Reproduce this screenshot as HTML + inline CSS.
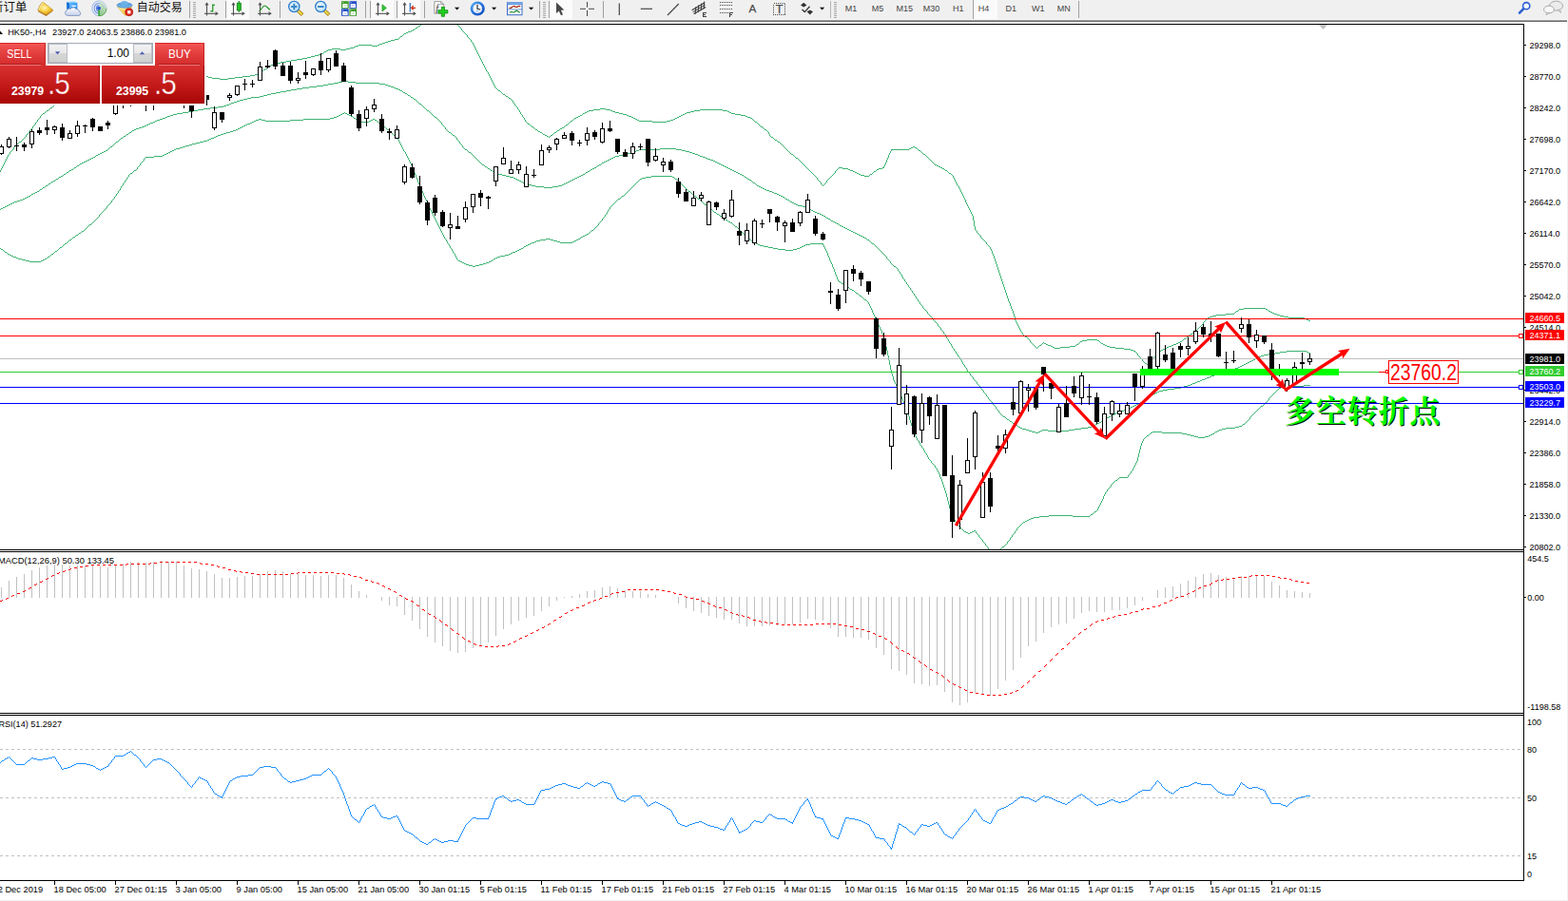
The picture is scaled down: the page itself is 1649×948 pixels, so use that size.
<!DOCTYPE html>
<html><head><meta charset="utf-8"><title>HK50 H4</title><style>
html,body{margin:0;padding:0;background:#fff;}
body{width:1649px;height:948px;position:relative;overflow:hidden;font-family:"Liberation Sans",sans-serif;}
svg{position:absolute;left:0;top:0;display:block}
#panel{position:absolute;left:0;top:45px;width:217px;height:66px;background:#fff;font-family:"Liberation Sans",sans-serif;color:#fff}
#panel div{position:absolute;box-sizing:border-box}
.btn{top:0;height:24px;border-top:1px solid #d42a2a;border-right:1px solid #c82222;background:linear-gradient(#f25454,#e03a3a 55%,#d42c2c);font-size:12.5px;text-align:center;line-height:22px;}
.btn b{font-weight:normal;display:inline-block}
.btn i{position:absolute;left:0;right:4px;bottom:0;height:1px;background:#f27878;display:block;box-shadow:0 -1px 0 #b41818}
.blk{top:24px;height:40px;background:linear-gradient(#d83030,#c41a1a 50%,#a80606);border-right:1px solid #a00808}
.sm{position:absolute;font-weight:bold;font-size:12.3px;top:21px;line-height:12px}
.bg{position:absolute;font-size:33px;top:1px;line-height:36px;letter-spacing:-1px;transform:scaleX(.9);transform-origin:0 0;-webkit-text-stroke:.45px #c41a1a}
#qty{left:50px;top:0;width:111px;height:22px;background:#fff;border:1px solid #a4a8b4;}
.sp{top:0;width:20px;height:20px;background:linear-gradient(#f2f2f2,#e8e8e8 48%,#d6d6d6 52%,#d0d0d0);border:1px solid #b8bcc4}
</style></head>
<body>
<svg width="1649" height="948" viewBox="0 0 1649 948">
<rect x="0" y="0" width="1649" height="948" fill="#fff"/>
<rect x="0" y="0" width="1649" height="21" fill="#f0f0f0"/>
<rect x="0" y="20" width="1648" height="1" fill="#f6f6f6"/>
<rect x="0" y="21" width="1648" height="1" fill="#a0a0a0"/>
<rect x="0" y="22" width="1648" height="1" fill="#696969"/>
<rect x="1648" y="0" width="1" height="948" fill="#f0f0f0"/>
<rect x="0" y="947" width="1649" height="1" fill="#f0f0f0"/>
<g shape-rendering="crispEdges">
<line x1="0" y1="788.5" x2="1602" y2="788.5" stroke="#c0c0c0" stroke-width="1" stroke-dasharray="3,3"/>
<line x1="0" y1="839.5" x2="1602" y2="839.5" stroke="#c0c0c0" stroke-width="1" stroke-dasharray="3,3"/>
<line x1="0" y1="900.5" x2="1602" y2="900.5" stroke="#c0c0c0" stroke-width="1" stroke-dasharray="3,3"/>
<clipPath id="cm"><rect x="0" y="26" width="1602" height="552"/></clipPath>
<path d="M442 26.5h1M440 27.5h2M439 28.5h1M437 29.5h2M436 30.5h1M434 31.5h2M432 32.5h2M429 33.5h3M427 34.5h2M425 35.5h2M424 36.5h1M423 37.5h1M421 38.5h2M420 39.5h1M419 40.5h1M415 41.5h4M411 42.5h4M408 43.5h3M405 44.5h3M402 45.5h3M399 46.5h3M377 47.5h14M397 47.5h2M374 48.5h3M391 48.5h6M372 49.5h2M368 50.5h4M349 51.5h9M364 51.5h4M345 52.5h4M358 52.5h6M343 53.5h2M341 54.5h2M340 55.5h1M338 56.5h2M335 57.5h3M331 58.5h4M327 59.5h4M323 60.5h4M318 61.5h5M312 62.5h6M306 63.5h6M301 64.5h5M295 65.5h6M290 66.5h5M287 67.5h3M285 68.5h2M284 69.5h1M282 70.5h2M281 71.5h1M279 72.5h2M277 73.5h2M276 74.5h1M274 75.5h2M273 76.5h1M271 77.5h2M268 78.5h3M263 79.5h5M210 80.5h9M255 80.5h8M198 81.5h12M219 81.5h4M247 81.5h8M186 82.5h12M223 82.5h8M240 82.5h7M176 83.5h10M231 83.5h9M168 84.5h8M160 85.5h8M152 86.5h8M144 87.5h8M138 88.5h6M132 89.5h6M126 90.5h6M120 91.5h6M115 92.5h5M109 93.5h6M103 94.5h6M99 95.5h4M95 96.5h4M92 97.5h3M89 98.5h3M85 99.5h4M82 100.5h3M79 101.5h3M75 102.5h4M72 103.5h3M69 104.5h3M67 105.5h2M65 106.5h2M63 107.5h2M61 108.5h2M59 109.5h2M57 110.5h2M56 111.5h1M55 112.5h1M53 113.5h2M52 114.5h1M51 115.5h1M49 116.5h2M48 117.5h1M47 118.5h1M45 119.5h2M44 120.5h1M43 121.5h1M42 122.5h1M42 123.5h1M41 124.5h1M40 125.5h1M39 126.5h1M39 127.5h1M38 128.5h1M37 129.5h1M37 130.5h1M36 131.5h1M35 132.5h1M34 133.5h1M34 134.5h1M33 135.5h1M32 136.5h1M31 137.5h1M31 138.5h1M30 139.5h1M29 140.5h1M28 141.5h1M27 142.5h1M27 143.5h1M26 144.5h1M25 145.5h1M24 146.5h1M23 147.5h1M22 148.5h1M20 149.5h2M19 150.5h1M18 151.5h1M17 152.5h1M16 153.5h1M15 154.5h1M14 155.5h1M14 156.5h1M13 157.5h1M12 158.5h1M11 159.5h1M10 160.5h1M10 161.5h1M9 162.5h1M8 163.5h1M8 164.5h1M7 165.5h1M7 166.5h1M6 167.5h1M6 168.5h1M5 169.5h1M5 170.5h1M4 171.5h1M4 172.5h1M3 173.5h1M3 174.5h1M2 175.5h1M2 176.5h1M1 177.5h1M1 178.5h1M0 179.5h1M0 180.5h1" stroke="#3cb371" stroke-width="1" fill="none" shape-rendering="crispEdges"/>
<path d="M481 26.5h1M482 27.5h1M483 28.5h1M484 29.5h1M485 30.5h1M485 31.5h1M486 32.5h1M487 33.5h1M488 34.5h1M489 35.5h1M490 36.5h1M491 37.5h1M491 38.5h1M492 39.5h1M493 40.5h1M494 41.5h1M495 42.5h1M495 43.5h1M496 44.5h1M497 45.5h1M497 46.5h1M498 47.5h1M498 48.5h1M499 49.5h1M499 50.5h1M500 51.5h1M500 52.5h1M501 53.5h1M501 54.5h1M502 55.5h1M502 56.5h1M503 57.5h1M503 58.5h1M504 59.5h1M504 60.5h1M505 61.5h1M505 62.5h1M506 63.5h1M506 64.5h1M507 65.5h1M507 66.5h1M508 67.5h1M508 68.5h1M509 69.5h1M509 70.5h1M510 71.5h1M510 72.5h1M511 73.5h1M511 74.5h1M512 75.5h1M513 76.5h1M513 77.5h1M514 78.5h1M514 79.5h1M515 80.5h1M515 81.5h1M516 82.5h1M516 83.5h1M517 84.5h1M517 85.5h1M518 86.5h1M518 87.5h1M519 88.5h1M519 89.5h1M520 90.5h1M520 91.5h1M521 92.5h1M522 93.5h1M523 94.5h1M524 95.5h2M526 96.5h1M527 97.5h1M528 98.5h1M529 99.5h2M531 100.5h1M532 101.5h2M534 102.5h1M535 103.5h2M537 104.5h1M538 105.5h1M539 106.5h1M539 107.5h1M540 108.5h1M541 109.5h1M541 110.5h1M542 111.5h1M543 112.5h1M544 113.5h1M544 114.5h1M631 114.5h6M545 115.5h1M624 115.5h7M637 115.5h5M736 115.5h24M546 116.5h1M619 116.5h5M642 116.5h2M730 116.5h6M760 116.5h5M546 117.5h1M617 117.5h2M644 117.5h3M726 117.5h4M765 117.5h2M547 118.5h1M615 118.5h2M647 118.5h4M722 118.5h4M767 118.5h2M547 119.5h1M613 119.5h2M651 119.5h4M720 119.5h2M769 119.5h4M548 120.5h1M612 120.5h1M655 120.5h4M718 120.5h2M773 120.5h6M549 121.5h1M610 121.5h2M659 121.5h2M716 121.5h2M779 121.5h5M549 122.5h1M608 122.5h2M661 122.5h3M714 122.5h2M784 122.5h2M550 123.5h1M606 123.5h2M664 123.5h2M712 123.5h2M786 123.5h3M551 124.5h1M604 124.5h2M666 124.5h2M710 124.5h2M789 124.5h2M551 125.5h1M603 125.5h1M668 125.5h2M708 125.5h2M791 125.5h1M552 126.5h1M602 126.5h1M670 126.5h2M705 126.5h3M792 126.5h1M552 127.5h1M600 127.5h2M672 127.5h14M701 127.5h4M793 127.5h1M553 128.5h1M599 128.5h1M686 128.5h15M794 128.5h2M554 129.5h1M598 129.5h1M796 129.5h1M555 130.5h2M597 130.5h1M797 130.5h1M557 131.5h1M595 131.5h2M798 131.5h1M558 132.5h1M594 132.5h1M799 132.5h1M559 133.5h2M593 133.5h1M800 133.5h2M561 134.5h1M591 134.5h2M802 134.5h1M562 135.5h1M589 135.5h2M803 135.5h1M563 136.5h2M588 136.5h1M804 136.5h2M565 137.5h1M586 137.5h2M806 137.5h1M566 138.5h2M585 138.5h1M807 138.5h1M568 139.5h2M583 139.5h2M808 139.5h1M570 140.5h1M582 140.5h1M808 140.5h1M571 141.5h2M581 141.5h1M809 141.5h1M573 142.5h2M579 142.5h2M809 142.5h1M575 143.5h2M578 143.5h1M810 143.5h1M577 144.5h1M811 144.5h2M813 145.5h1M814 146.5h1M815 147.5h2M817 148.5h1M818 149.5h2M820 150.5h1M821 151.5h1M822 152.5h1M823 153.5h1M824 154.5h1M960 154.5h2M825 155.5h1M958 155.5h2M962 155.5h2M826 156.5h1M956 156.5h2M964 156.5h1M827 157.5h1M937 157.5h19M965 157.5h1M828 158.5h1M937 158.5h1M966 158.5h2M829 159.5h1M936 159.5h1M968 159.5h1M830 160.5h1M936 160.5h1M969 160.5h1M831 161.5h1M935 161.5h1M970 161.5h1M832 162.5h2M935 162.5h1M971 162.5h2M834 163.5h1M934 163.5h1M973 163.5h1M835 164.5h1M934 164.5h1M974 164.5h1M836 165.5h1M934 165.5h1M975 165.5h1M837 166.5h2M933 166.5h1M976 166.5h1M839 167.5h1M933 167.5h1M977 167.5h1M840 168.5h1M932 168.5h1M978 168.5h1M841 169.5h1M932 169.5h1M979 169.5h1M842 170.5h1M932 170.5h1M980 170.5h1M843 171.5h1M931 171.5h1M981 171.5h1M844 172.5h1M931 172.5h1M982 172.5h1M845 173.5h1M930 173.5h1M983 173.5h2M846 174.5h1M930 174.5h1M985 174.5h2M847 175.5h1M929 175.5h1M987 175.5h2M848 176.5h1M882 176.5h4M928 176.5h2M989 176.5h2M849 177.5h1M881 177.5h1M886 177.5h6M924 177.5h4M991 177.5h2M850 178.5h1M880 178.5h1M892 178.5h2M922 178.5h2M993 178.5h1M851 179.5h1M879 179.5h1M894 179.5h3M921 179.5h1M994 179.5h2M852 180.5h1M878 180.5h1M897 180.5h2M919 180.5h2M996 180.5h1M853 181.5h1M878 181.5h1M899 181.5h2M918 181.5h1M997 181.5h1M854 182.5h1M877 182.5h1M901 182.5h2M917 182.5h1M998 182.5h2M855 183.5h1M876 183.5h1M903 183.5h2M915 183.5h2M1000 183.5h1M856 184.5h1M875 184.5h1M905 184.5h4M914 184.5h1M1001 184.5h1M857 185.5h1M874 185.5h1M909 185.5h5M1002 185.5h1M858 186.5h1M873 186.5h1M1002 186.5h1M859 187.5h1M872 187.5h1M1003 187.5h1M859 188.5h1M871 188.5h1M1003 188.5h1M860 189.5h1M870 189.5h1M1004 189.5h1M861 190.5h1M869 190.5h1M1004 190.5h1M862 191.5h1M869 191.5h1M1005 191.5h1M863 192.5h1M868 192.5h1M1005 192.5h1M863 193.5h1M867 193.5h1M1006 193.5h1M864 194.5h1M866 194.5h1M1006 194.5h1M865 195.5h1M1007 195.5h1M1008 196.5h1M1008 197.5h1M1009 198.5h1M1009 199.5h1M1010 200.5h1M1010 201.5h1M1011 202.5h1M1011 203.5h1M1012 204.5h1M1012 205.5h1M1013 206.5h1M1013 207.5h1M1014 208.5h1M1014 209.5h1M1015 210.5h1M1015 211.5h1M1015 212.5h1M1016 213.5h1M1016 214.5h1M1017 215.5h1M1017 216.5h1M1018 217.5h1M1018 218.5h1M1019 219.5h1M1019 220.5h1M1020 221.5h1M1020 222.5h1M1021 223.5h1M1021 224.5h1M1022 225.5h1M1022 226.5h1M1023 227.5h1M1023 228.5h1M1023 229.5h1M1023 230.5h1M1023 231.5h1M1024 232.5h1M1024 233.5h1M1024 234.5h1M1024 235.5h1M1024 236.5h1M1024 237.5h1M1025 238.5h1M1025 239.5h1M1025 240.5h1M1025 241.5h1M1026 242.5h1M1027 243.5h1M1027 244.5h1M1028 245.5h1M1029 246.5h1M1030 247.5h1M1031 248.5h1M1031 249.5h1M1032 250.5h1M1033 251.5h1M1034 252.5h1M1035 253.5h1M1036 254.5h1M1037 255.5h1M1037 256.5h1M1038 257.5h1M1039 258.5h1M1040 259.5h1M1041 260.5h1M1041 261.5h1M1042 262.5h1M1042 263.5h1M1043 264.5h1M1043 265.5h1M1043 266.5h1M1044 267.5h1M1044 268.5h1M1045 269.5h1M1045 270.5h1M1045 271.5h1M1046 272.5h1M1046 273.5h1M1046 274.5h1M1047 275.5h1M1047 276.5h1M1047 277.5h1M1048 278.5h1M1048 279.5h1M1048 280.5h1M1049 281.5h1M1049 282.5h1M1049 283.5h1M1050 284.5h1M1050 285.5h1M1050 286.5h1M1051 287.5h1M1051 288.5h1M1051 289.5h1M1052 290.5h1M1052 291.5h1M1052 292.5h1M1053 293.5h1M1053 294.5h1M1053 295.5h1M1054 296.5h1M1054 297.5h1M1054 298.5h1M1055 299.5h1M1055 300.5h1M1055 301.5h1M1056 302.5h1M1056 303.5h1M1056 304.5h1M1057 305.5h1M1057 306.5h1M1057 307.5h1M1058 308.5h1M1058 309.5h1M1058 310.5h1M1059 311.5h1M1059 312.5h1M1059 313.5h1M1060 314.5h1M1060 315.5h1M1060 316.5h1M1061 317.5h1M1061 318.5h1M1062 319.5h1M1062 320.5h1M1062 321.5h1M1063 322.5h1M1063 323.5h1M1063 324.5h1M1308 324.5h23M1064 325.5h1M1303 325.5h5M1331 325.5h2M1064 326.5h1M1302 326.5h1M1333 326.5h1M1065 327.5h1M1300 327.5h2M1334 327.5h2M1065 328.5h1M1299 328.5h1M1336 328.5h2M1065 329.5h1M1298 329.5h1M1338 329.5h2M1066 330.5h1M1289 330.5h9M1340 330.5h3M1066 331.5h1M1279 331.5h10M1343 331.5h3M1066 332.5h1M1275 332.5h4M1346 332.5h4M1067 333.5h1M1272 333.5h3M1350 333.5h5M1067 334.5h1M1270 334.5h2M1355 334.5h17M1067 335.5h1M1269 335.5h1M1372 335.5h2M1067 336.5h1M1268 336.5h1M1374 336.5h2M1068 337.5h1M1267 337.5h1M1376 337.5h2M1068 338.5h1M1266 338.5h1M1069 339.5h1M1265 339.5h1M1069 340.5h1M1265 340.5h1M1070 341.5h1M1264 341.5h1M1070 342.5h1M1263 342.5h1M1071 343.5h1M1262 343.5h1M1071 344.5h1M1261 344.5h1M1072 345.5h1M1260 345.5h1M1072 346.5h1M1259 346.5h1M1073 347.5h1M1257 347.5h2M1073 348.5h1M1256 348.5h1M1074 349.5h1M1255 349.5h1M1075 350.5h1M1254 350.5h1M1075 351.5h1M1252 351.5h2M1076 352.5h1M1251 352.5h1M1077 353.5h1M1250 353.5h1M1078 354.5h2M1248 354.5h2M1080 355.5h1M1247 355.5h1M1081 356.5h1M1245 356.5h2M1082 357.5h1M1143 357.5h11M1244 357.5h1M1083 358.5h1M1138 358.5h5M1154 358.5h2M1243 358.5h1M1083 359.5h1M1136 359.5h2M1156 359.5h1M1241 359.5h2M1084 360.5h1M1097 360.5h1M1135 360.5h1M1157 360.5h1M1239 360.5h2M1085 361.5h1M1096 361.5h1M1098 361.5h2M1134 361.5h1M1158 361.5h2M1237 361.5h2M1086 362.5h1M1095 362.5h1M1100 362.5h2M1132 362.5h2M1160 362.5h2M1234 362.5h3M1087 363.5h1M1093 363.5h2M1102 363.5h3M1131 363.5h1M1162 363.5h2M1232 363.5h2M1088 364.5h1M1092 364.5h1M1105 364.5h2M1125 364.5h6M1164 364.5h3M1229 364.5h3M1089 365.5h1M1091 365.5h1M1107 365.5h2M1115 365.5h10M1167 365.5h6M1227 365.5h2M1090 366.5h1M1109 366.5h6M1173 366.5h9M1225 366.5h2M1182 367.5h7M1223 367.5h2M1189 368.5h3M1221 368.5h2M1192 369.5h2M1220 369.5h1M1194 370.5h1M1219 370.5h1M1195 371.5h1M1218 371.5h1M1196 372.5h1M1217 372.5h1M1196 373.5h1M1216 373.5h1M1197 374.5h1M1215 374.5h1M1198 375.5h1M1214 375.5h1M1199 376.5h1M1213 376.5h1M1200 377.5h1M1212 377.5h1M1201 378.5h1M1211 378.5h1M1201 379.5h1M1210 379.5h1M1202 380.5h1M1210 380.5h1M1203 381.5h1M1209 381.5h1M1204 382.5h2M1208 382.5h1M1206 383.5h2" stroke="#3cb371" stroke-width="1" fill="none" shape-rendering="crispEdges"/>
<path d="M360 85.5h6M356 86.5h4M366 86.5h8M351 87.5h5M374 87.5h25M345 88.5h6M399 88.5h6M340 89.5h5M405 89.5h3M333 90.5h7M408 90.5h3M325 91.5h8M411 91.5h3M318 92.5h7M414 92.5h2M312 93.5h6M416 93.5h3M306 94.5h6M419 94.5h2M301 95.5h5M421 95.5h2M295 96.5h6M423 96.5h1M290 97.5h5M424 97.5h2M285 98.5h5M426 98.5h2M281 99.5h4M428 99.5h1M277 100.5h4M429 100.5h2M273 101.5h4M431 101.5h1M264 102.5h9M432 102.5h2M260 103.5h4M434 103.5h1M256 104.5h4M435 104.5h2M252 105.5h4M437 105.5h1M249 106.5h3M438 106.5h1M246 107.5h3M439 107.5h1M243 108.5h3M440 108.5h1M241 109.5h2M441 109.5h2M238 110.5h3M443 110.5h1M235 111.5h3M444 111.5h1M229 112.5h6M445 112.5h1M221 113.5h8M446 113.5h1M214 114.5h7M447 114.5h1M208 115.5h6M448 115.5h1M203 116.5h5M449 116.5h2M198 117.5h5M451 117.5h1M192 118.5h6M452 118.5h1M186 119.5h6M453 119.5h1M182 120.5h4M454 120.5h1M179 121.5h3M455 121.5h1M176 122.5h3M456 122.5h1M174 123.5h2M457 123.5h2M171 124.5h3M459 124.5h1M168 125.5h3M460 125.5h1M165 126.5h3M461 126.5h1M163 127.5h2M462 127.5h1M161 128.5h2M463 128.5h1M158 129.5h3M464 129.5h1M156 130.5h2M464 130.5h1M154 131.5h2M465 131.5h1M152 132.5h2M466 132.5h1M149 133.5h3M467 133.5h1M146 134.5h3M468 134.5h1M143 135.5h3M468 135.5h1M141 136.5h2M469 136.5h1M139 137.5h2M470 137.5h1M138 138.5h1M471 138.5h1M136 139.5h2M472 139.5h2M135 140.5h1M474 140.5h1M133 141.5h2M475 141.5h1M132 142.5h1M476 142.5h2M130 143.5h2M478 143.5h1M129 144.5h1M479 144.5h1M127 145.5h2M480 145.5h1M126 146.5h1M480 146.5h1M125 147.5h1M481 147.5h1M124 148.5h1M482 148.5h1M122 149.5h2M483 149.5h1M121 150.5h1M483 150.5h1M120 151.5h1M484 151.5h1M119 152.5h1M485 152.5h1M118 153.5h1M486 153.5h1M116 154.5h2M486 154.5h1M115 155.5h1M487 155.5h1M114 156.5h1M488 156.5h1M694 156.5h17M113 157.5h1M489 157.5h2M672 157.5h22M711 157.5h6M111 158.5h2M491 158.5h1M669 158.5h3M717 158.5h4M109 159.5h2M492 159.5h1M667 159.5h2M721 159.5h4M107 160.5h2M493 160.5h2M663 160.5h4M725 160.5h3M105 161.5h2M495 161.5h1M659 161.5h4M728 161.5h3M103 162.5h2M496 162.5h1M655 162.5h4M731 162.5h3M101 163.5h2M497 163.5h1M651 163.5h4M734 163.5h2M100 164.5h1M498 164.5h1M647 164.5h4M736 164.5h3M98 165.5h2M499 165.5h1M645 165.5h2M739 165.5h3M96 166.5h2M500 166.5h1M643 166.5h2M742 166.5h2M94 167.5h2M501 167.5h1M641 167.5h2M744 167.5h3M92 168.5h2M502 168.5h1M639 168.5h2M747 168.5h3M90 169.5h2M503 169.5h1M637 169.5h2M750 169.5h2M88 170.5h2M504 170.5h1M635 170.5h2M752 170.5h2M86 171.5h2M505 171.5h1M633 171.5h2M754 171.5h2M84 172.5h2M506 172.5h1M632 172.5h1M756 172.5h2M83 173.5h1M507 173.5h2M630 173.5h2M758 173.5h2M81 174.5h2M509 174.5h1M628 174.5h2M760 174.5h2M80 175.5h1M510 175.5h2M627 175.5h1M762 175.5h2M78 176.5h2M512 176.5h1M625 176.5h2M764 176.5h2M77 177.5h1M513 177.5h2M623 177.5h2M766 177.5h2M75 178.5h2M515 178.5h1M621 178.5h2M768 178.5h2M73 179.5h2M516 179.5h2M620 179.5h1M770 179.5h2M72 180.5h1M518 180.5h1M618 180.5h2M772 180.5h2M70 181.5h2M519 181.5h2M616 181.5h2M774 181.5h2M69 182.5h1M521 182.5h3M615 182.5h1M776 182.5h2M67 183.5h2M524 183.5h4M613 183.5h2M778 183.5h2M66 184.5h1M528 184.5h4M611 184.5h2M780 184.5h2M64 185.5h2M532 185.5h4M609 185.5h2M782 185.5h1M62 186.5h2M536 186.5h4M607 186.5h2M783 186.5h2M61 187.5h1M540 187.5h2M605 187.5h2M785 187.5h1M59 188.5h2M542 188.5h2M603 188.5h2M786 188.5h2M58 189.5h1M544 189.5h2M601 189.5h2M788 189.5h2M56 190.5h2M546 190.5h2M599 190.5h2M790 190.5h1M54 191.5h2M548 191.5h2M597 191.5h2M791 191.5h1M53 192.5h1M550 192.5h3M595 192.5h2M792 192.5h2M51 193.5h2M553 193.5h3M593 193.5h2M794 193.5h1M50 194.5h1M556 194.5h3M591 194.5h2M795 194.5h1M48 195.5h2M559 195.5h4M587 195.5h4M796 195.5h2M47 196.5h1M563 196.5h9M581 196.5h6M798 196.5h2M45 197.5h2M572 197.5h9M800 197.5h2M44 198.5h1M802 198.5h2M42 199.5h2M804 199.5h2M41 200.5h1M806 200.5h3M39 201.5h2M809 201.5h3M37 202.5h2M812 202.5h2M35 203.5h2M814 203.5h3M33 204.5h2M817 204.5h2M32 205.5h1M819 205.5h2M30 206.5h2M821 206.5h2M28 207.5h2M823 207.5h2M26 208.5h2M825 208.5h1M24 209.5h2M826 209.5h2M21 210.5h3M828 210.5h2M18 211.5h3M830 211.5h1M15 212.5h3M831 212.5h2M13 213.5h2M833 213.5h2M11 214.5h2M835 214.5h2M9 215.5h2M837 215.5h2M7 216.5h2M839 216.5h5M5 217.5h2M844 217.5h4M3 218.5h2M848 218.5h2M1 219.5h2M850 219.5h1M0 220.5h1M851 220.5h2M853 221.5h2M855 222.5h2M857 223.5h2M859 224.5h3M862 225.5h2M864 226.5h2M866 227.5h2M868 228.5h1M869 229.5h2M871 230.5h2M873 231.5h1M874 232.5h2M876 233.5h2M878 234.5h2M880 235.5h2M882 236.5h1M883 237.5h2M885 238.5h2M887 239.5h2M889 240.5h2M891 241.5h2M893 242.5h2M895 243.5h2M897 244.5h2M899 245.5h2M901 246.5h2M903 247.5h2M905 248.5h2M907 249.5h2M909 250.5h2M911 251.5h1M912 252.5h2M914 253.5h1M915 254.5h1M916 255.5h1M917 256.5h2M919 257.5h1M920 258.5h1M921 259.5h1M922 260.5h1M923 261.5h1M924 262.5h1M925 263.5h1M926 264.5h1M927 265.5h1M928 266.5h1M929 267.5h1M930 268.5h1M931 269.5h1M932 270.5h1M932 271.5h1M933 272.5h1M934 273.5h1M935 274.5h1M936 275.5h1M936 276.5h1M937 277.5h1M938 278.5h1M939 279.5h1M940 280.5h2M942 281.5h1M943 282.5h1M944 283.5h1M944 284.5h1M945 285.5h1M946 286.5h1M946 287.5h1M947 288.5h1M948 289.5h1M948 290.5h1M949 291.5h1M949 292.5h1M950 293.5h1M951 294.5h1M951 295.5h1M952 296.5h1M953 297.5h1M953 298.5h1M954 299.5h1M955 300.5h1M955 301.5h1M956 302.5h1M957 303.5h1M957 304.5h1M958 305.5h1M959 306.5h1M959 307.5h1M960 308.5h1M961 309.5h1M961 310.5h1M962 311.5h1M963 312.5h1M963 313.5h1M964 314.5h1M965 315.5h1M965 316.5h1M966 317.5h1M967 318.5h1M967 319.5h1M968 320.5h1M969 321.5h1M970 322.5h1M970 323.5h1M971 324.5h1M972 325.5h1M973 326.5h1M974 327.5h1M975 328.5h1M975 329.5h1M976 330.5h1M977 331.5h1M978 332.5h1M979 333.5h1M980 334.5h1M981 335.5h1M981 336.5h1M982 337.5h1M983 338.5h1M984 339.5h1M985 340.5h1M986 341.5h1M986 342.5h1M987 343.5h1M988 344.5h1M989 345.5h1M989 346.5h1M990 347.5h1M991 348.5h1M992 349.5h1M992 350.5h1M993 351.5h1M994 352.5h1M994 353.5h1M995 354.5h1M995 355.5h1M996 356.5h1M997 357.5h1M997 358.5h1M998 359.5h1M998 360.5h1M999 361.5h1M1000 362.5h1M1000 363.5h1M1001 364.5h1M1001 365.5h1M1002 366.5h1M1003 367.5h1M1003 368.5h1M1004 369.5h1M1353 369.5h21M1005 370.5h1M1346 370.5h7M1374 370.5h2M1005 371.5h1M1341 371.5h5M1376 371.5h2M1006 372.5h1M1334 372.5h7M1007 373.5h1M1329 373.5h5M1007 374.5h1M1326 374.5h3M1008 375.5h1M1324 375.5h2M1009 376.5h1M1322 376.5h2M1009 377.5h1M1320 377.5h2M1010 378.5h1M1318 378.5h2M1011 379.5h1M1316 379.5h2M1011 380.5h1M1314 380.5h2M1012 381.5h1M1312 381.5h2M1012 382.5h1M1310 382.5h2M1013 383.5h1M1308 383.5h2M1014 384.5h1M1306 384.5h2M1014 385.5h1M1304 385.5h2M1015 386.5h1M1302 386.5h2M1016 387.5h1M1299 387.5h3M1016 388.5h1M1295 388.5h4M1017 389.5h1M1292 389.5h3M1017 390.5h1M1289 390.5h3M1018 391.5h1M1285 391.5h4M1019 392.5h1M1282 392.5h3M1020 393.5h1M1279 393.5h3M1020 394.5h1M1277 394.5h2M1021 395.5h1M1274 395.5h3M1022 396.5h1M1272 396.5h2M1023 397.5h1M1269 397.5h3M1023 398.5h1M1267 398.5h2M1024 399.5h1M1264 399.5h3M1025 400.5h1M1262 400.5h2M1026 401.5h1M1259 401.5h3M1027 402.5h1M1257 402.5h2M1027 403.5h1M1254 403.5h3M1028 404.5h1M1252 404.5h2M1029 405.5h1M1249 405.5h3M1030 406.5h1M1245 406.5h4M1031 407.5h1M1242 407.5h3M1031 408.5h1M1235 408.5h7M1032 409.5h1M1228 409.5h7M1033 410.5h1M1223 410.5h5M1034 411.5h1M1219 411.5h4M1034 412.5h1M1217 412.5h2M1035 413.5h1M1215 413.5h2M1036 414.5h1M1213 414.5h2M1037 415.5h1M1211 415.5h2M1037 416.5h1M1210 416.5h1M1038 417.5h1M1208 417.5h2M1039 418.5h1M1207 418.5h1M1039 419.5h1M1205 419.5h2M1040 420.5h1M1204 420.5h1M1041 421.5h1M1203 421.5h1M1042 422.5h1M1201 422.5h2M1043 423.5h1M1199 423.5h2M1043 424.5h1M1197 424.5h2M1044 425.5h1M1195 425.5h2M1045 426.5h1M1193 426.5h2M1046 427.5h1M1191 427.5h2M1047 428.5h1M1189 428.5h2M1047 429.5h1M1187 429.5h2M1048 430.5h1M1184 430.5h3M1049 431.5h1M1182 431.5h2M1050 432.5h1M1179 432.5h3M1050 433.5h1M1176 433.5h3M1051 434.5h1M1174 434.5h2M1052 435.5h1M1172 435.5h2M1053 436.5h1M1170 436.5h2M1054 437.5h1M1168 437.5h2M1055 438.5h2M1166 438.5h2M1057 439.5h1M1164 439.5h2M1058 440.5h1M1163 440.5h1M1059 441.5h2M1161 441.5h2M1061 442.5h1M1159 442.5h2M1062 443.5h2M1158 443.5h1M1064 444.5h1M1156 444.5h2M1065 445.5h2M1154 445.5h2M1067 446.5h1M1152 446.5h2M1068 447.5h2M1150 447.5h2M1070 448.5h1M1148 448.5h2M1071 449.5h2M1144 449.5h4M1073 450.5h2M1137 450.5h7M1075 451.5h4M1130 451.5h7M1079 452.5h3M1096 452.5h6M1124 452.5h6M1082 453.5h3M1094 453.5h2M1102 453.5h22M1085 454.5h4M1092 454.5h2M1089 455.5h3" stroke="#3cb371" stroke-width="1" fill="none" shape-rendering="crispEdges"/>
<path d="M362 118.5h1M360 119.5h2M363 119.5h2M358 120.5h2M365 120.5h2M356 121.5h2M367 121.5h2M354 122.5h2M369 122.5h2M351 123.5h3M371 123.5h1M347 124.5h4M372 124.5h2M272 125.5h3M319 125.5h28M374 125.5h1M392 125.5h2M269 126.5h3M275 126.5h4M305 126.5h14M375 126.5h1M390 126.5h2M394 126.5h2M267 127.5h2M279 127.5h26M376 127.5h2M388 127.5h2M396 127.5h1M265 128.5h2M378 128.5h10M397 128.5h1M263 129.5h2M398 129.5h2M260 130.5h3M400 130.5h1M258 131.5h2M401 131.5h2M256 132.5h2M403 132.5h1M254 133.5h2M404 133.5h1M252 134.5h2M405 134.5h1M250 135.5h2M406 135.5h1M248 136.5h2M407 136.5h2M245 137.5h3M409 137.5h1M242 138.5h3M410 138.5h1M238 139.5h4M411 139.5h1M235 140.5h3M412 140.5h1M232 141.5h3M413 141.5h1M229 142.5h3M414 142.5h1M227 143.5h2M415 143.5h1M225 144.5h2M416 144.5h1M222 145.5h3M417 145.5h1M220 146.5h2M418 146.5h1M218 147.5h2M419 147.5h1M214 148.5h4M419 148.5h1M210 149.5h4M420 149.5h1M206 150.5h4M420 150.5h1M202 151.5h4M421 151.5h1M199 152.5h3M421 152.5h1M195 153.5h4M422 153.5h1M192 154.5h3M422 154.5h1M189 155.5h3M423 155.5h1M185 156.5h4M423 156.5h1M183 157.5h2M424 157.5h1M181 158.5h2M424 158.5h1M179 159.5h2M425 159.5h1M177 160.5h2M426 160.5h1M175 161.5h2M426 161.5h1M173 162.5h2M427 162.5h1M171 163.5h2M427 163.5h1M162 164.5h9M428 164.5h1M153 165.5h9M428 165.5h1M152 166.5h1M429 166.5h1M151 167.5h1M429 167.5h1M151 168.5h1M430 168.5h1M150 169.5h1M430 169.5h1M149 170.5h1M431 170.5h1M148 171.5h1M431 171.5h1M147 172.5h1M432 172.5h1M147 173.5h1M432 173.5h1M146 174.5h1M433 174.5h1M145 175.5h1M433 175.5h1M144 176.5h1M433 176.5h1M144 177.5h1M434 177.5h1M143 178.5h1M434 178.5h1M141 179.5h2M435 179.5h1M140 180.5h1M435 180.5h1M139 181.5h1M435 181.5h1M137 182.5h2M436 182.5h1M136 183.5h1M436 183.5h1M135 184.5h1M437 184.5h1M135 185.5h1M437 185.5h1M685 185.5h22M134 186.5h1M437 186.5h1M679 186.5h6M707 186.5h2M133 187.5h1M438 187.5h1M675 187.5h4M709 187.5h1M133 188.5h1M438 188.5h1M673 188.5h2M710 188.5h2M132 189.5h1M439 189.5h1M672 189.5h1M712 189.5h1M131 190.5h1M439 190.5h1M671 190.5h1M713 190.5h1M131 191.5h1M439 191.5h1M670 191.5h1M714 191.5h1M130 192.5h1M440 192.5h1M669 192.5h1M715 192.5h1M129 193.5h1M440 193.5h1M668 193.5h1M716 193.5h1M129 194.5h1M441 194.5h1M667 194.5h1M717 194.5h1M128 195.5h1M441 195.5h1M666 195.5h1M718 195.5h1M127 196.5h1M441 196.5h1M665 196.5h1M719 196.5h1M127 197.5h1M442 197.5h1M664 197.5h1M720 197.5h1M126 198.5h1M442 198.5h1M663 198.5h1M721 198.5h1M126 199.5h1M443 199.5h1M662 199.5h1M722 199.5h1M125 200.5h1M443 200.5h1M661 200.5h1M723 200.5h1M124 201.5h1M444 201.5h1M660 201.5h1M724 201.5h2M124 202.5h1M444 202.5h1M659 202.5h1M726 202.5h1M123 203.5h1M445 203.5h1M658 203.5h1M727 203.5h1M122 204.5h1M445 204.5h1M657 204.5h1M728 204.5h1M122 205.5h1M445 205.5h1M656 205.5h1M729 205.5h1M121 206.5h1M446 206.5h1M654 206.5h2M730 206.5h2M120 207.5h1M446 207.5h1M653 207.5h1M732 207.5h1M120 208.5h1M447 208.5h1M652 208.5h1M733 208.5h1M119 209.5h1M447 209.5h1M650 209.5h2M734 209.5h2M118 210.5h1M448 210.5h1M649 210.5h1M736 210.5h1M117 211.5h1M448 211.5h1M648 211.5h1M737 211.5h1M117 212.5h1M449 212.5h1M647 212.5h1M738 212.5h1M116 213.5h1M449 213.5h1M646 213.5h1M739 213.5h1M115 214.5h1M449 214.5h1M645 214.5h1M740 214.5h1M114 215.5h1M450 215.5h1M644 215.5h1M741 215.5h2M113 216.5h1M450 216.5h1M643 216.5h1M743 216.5h1M112 217.5h1M451 217.5h1M642 217.5h1M744 217.5h1M112 218.5h1M451 218.5h1M641 218.5h1M745 218.5h1M111 219.5h1M452 219.5h1M641 219.5h1M746 219.5h1M110 220.5h1M452 220.5h1M640 220.5h1M747 220.5h2M109 221.5h1M453 221.5h1M639 221.5h1M749 221.5h1M108 222.5h1M453 222.5h1M639 222.5h1M750 222.5h1M107 223.5h1M454 223.5h1M638 223.5h1M751 223.5h2M106 224.5h1M454 224.5h1M638 224.5h1M753 224.5h1M105 225.5h1M455 225.5h1M637 225.5h1M754 225.5h2M104 226.5h1M455 226.5h1M636 226.5h1M756 226.5h1M104 227.5h1M456 227.5h1M636 227.5h1M757 227.5h2M103 228.5h1M456 228.5h1M635 228.5h1M759 228.5h1M102 229.5h1M457 229.5h1M634 229.5h1M760 229.5h2M101 230.5h1M457 230.5h1M633 230.5h1M762 230.5h1M100 231.5h1M458 231.5h1M633 231.5h1M763 231.5h2M99 232.5h1M458 232.5h1M632 232.5h1M765 232.5h1M98 233.5h1M459 233.5h1M631 233.5h1M766 233.5h2M97 234.5h1M459 234.5h1M630 234.5h1M768 234.5h2M96 235.5h1M460 235.5h1M629 235.5h1M770 235.5h1M94 236.5h2M460 236.5h1M629 236.5h1M771 236.5h1M93 237.5h1M461 237.5h1M628 237.5h1M772 237.5h1M92 238.5h1M461 238.5h1M627 238.5h1M773 238.5h2M91 239.5h1M462 239.5h1M626 239.5h1M775 239.5h1M90 240.5h1M462 240.5h1M625 240.5h1M776 240.5h1M89 241.5h1M463 241.5h1M624 241.5h1M777 241.5h1M88 242.5h1M463 242.5h1M622 242.5h2M778 242.5h1M86 243.5h2M464 243.5h1M621 243.5h1M779 243.5h1M85 244.5h1M464 244.5h1M620 244.5h1M780 244.5h1M83 245.5h2M465 245.5h1M619 245.5h1M781 245.5h1M82 246.5h1M465 246.5h1M617 246.5h2M782 246.5h1M80 247.5h2M466 247.5h1M615 247.5h2M783 247.5h1M79 248.5h1M466 248.5h1M613 248.5h2M784 248.5h1M77 249.5h2M467 249.5h1M611 249.5h2M785 249.5h1M76 250.5h1M467 250.5h1M610 250.5h1M786 250.5h1M75 251.5h1M468 251.5h1M574 251.5h5M608 251.5h2M787 251.5h2M73 252.5h2M469 252.5h1M568 252.5h6M579 252.5h3M606 252.5h2M789 252.5h1M72 253.5h1M469 253.5h1M564 253.5h4M582 253.5h4M604 253.5h2M790 253.5h1M71 254.5h1M470 254.5h1M562 254.5h2M586 254.5h3M602 254.5h2M791 254.5h2M70 255.5h1M470 255.5h1M559 255.5h3M589 255.5h13M793 255.5h2M68 256.5h2M471 256.5h1M557 256.5h2M795 256.5h2M852 256.5h14M67 257.5h1M472 257.5h1M555 257.5h2M797 257.5h2M847 257.5h5M865 257.5h1M66 258.5h1M472 258.5h1M553 258.5h2M799 258.5h4M845 258.5h2M866 258.5h1M65 259.5h1M473 259.5h1M551 259.5h2M803 259.5h5M843 259.5h2M866 259.5h1M63 260.5h2M473 260.5h1M550 260.5h1M808 260.5h5M841 260.5h2M867 260.5h1M0 261.5h1M62 261.5h1M474 261.5h1M548 261.5h2M813 261.5h5M838 261.5h3M867 261.5h1M1 262.5h2M61 262.5h1M475 262.5h1M546 262.5h2M818 262.5h8M834 262.5h4M868 262.5h1M3 263.5h1M60 263.5h1M475 263.5h1M544 263.5h2M826 263.5h8M868 263.5h1M4 264.5h1M58 264.5h2M476 264.5h1M542 264.5h2M869 264.5h1M5 265.5h2M57 265.5h1M476 265.5h1M539 265.5h3M869 265.5h1M7 266.5h1M56 266.5h1M477 266.5h1M537 266.5h2M870 266.5h1M8 267.5h2M54 267.5h2M478 267.5h1M535 267.5h2M870 267.5h1M10 268.5h2M53 268.5h1M478 268.5h1M531 268.5h4M870 268.5h1M12 269.5h2M52 269.5h1M479 269.5h1M526 269.5h5M871 269.5h1M14 270.5h3M50 270.5h2M479 270.5h1M523 270.5h3M871 270.5h1M17 271.5h2M49 271.5h1M480 271.5h1M521 271.5h2M872 271.5h1M19 272.5h4M47 272.5h2M480 272.5h1M519 272.5h2M872 272.5h1M23 273.5h4M45 273.5h2M481 273.5h1M518 273.5h1M872 273.5h1M27 274.5h4M43 274.5h2M482 274.5h2M516 274.5h2M873 274.5h1M31 275.5h12M484 275.5h2M514 275.5h2M873 275.5h1M486 276.5h2M511 276.5h3M874 276.5h1M488 277.5h2M508 277.5h3M874 277.5h1M490 278.5h3M504 278.5h4M875 278.5h1M493 279.5h4M500 279.5h4M875 279.5h1M497 280.5h3M875 280.5h1M876 281.5h1M876 282.5h1M877 283.5h1M877 284.5h1M877 285.5h1M878 286.5h1M878 287.5h1M878 288.5h1M879 289.5h1M879 290.5h1M880 291.5h1M880 292.5h1M880 293.5h1M881 294.5h1M881 295.5h1M882 296.5h2M884 297.5h1M885 298.5h2M887 299.5h1M888 300.5h2M890 301.5h1M891 302.5h2M893 303.5h1M894 304.5h2M896 305.5h2M898 306.5h1M899 307.5h1M900 308.5h2M902 309.5h1M903 310.5h1M904 311.5h2M906 312.5h1M907 313.5h1M908 314.5h1M909 315.5h2M911 316.5h1M912 317.5h1M913 318.5h1M913 319.5h1M914 320.5h1M914 321.5h1M915 322.5h1M915 323.5h1M916 324.5h1M916 325.5h1M917 326.5h1M917 327.5h1M917 328.5h1M918 329.5h1M918 330.5h1M919 331.5h1M919 332.5h1M920 333.5h1M920 334.5h1M921 335.5h1M921 336.5h1M922 337.5h1M922 338.5h1M922 339.5h1M923 340.5h1M923 341.5h1M924 342.5h1M924 343.5h1M925 344.5h1M925 345.5h1M926 346.5h1M926 347.5h1M927 348.5h1M927 349.5h1M927 350.5h1M928 351.5h1M928 352.5h1M928 353.5h1M929 354.5h1M929 355.5h1M929 356.5h1M929 357.5h1M930 358.5h1M930 359.5h1M930 360.5h1M931 361.5h1M931 362.5h1M931 363.5h1M931 364.5h1M932 365.5h1M932 366.5h1M932 367.5h1M932 368.5h1M933 369.5h1M933 370.5h1M933 371.5h1M933 372.5h1M933 373.5h1M934 374.5h1M934 375.5h1M934 376.5h1M934 377.5h1M934 378.5h1M935 379.5h1M935 380.5h1M935 381.5h1M935 382.5h1M935 383.5h1M936 384.5h1M936 385.5h1M936 386.5h1M936 387.5h1M936 388.5h1M937 389.5h1M937 390.5h1M937 391.5h1M937 392.5h1M938 393.5h1M938 394.5h1M938 395.5h1M939 396.5h1M939 397.5h1M939 398.5h1M939 399.5h1M940 400.5h1M940 401.5h1M941 402.5h1M941 403.5h1M942 404.5h1M942 405.5h1M943 406.5h1M943 407.5h1M944 408.5h1M944 409.5h1M945 410.5h1M945 411.5h1M945 412.5h1M946 413.5h1M946 414.5h1M947 415.5h1M947 416.5h1M948 417.5h1M948 418.5h1M948 419.5h1M949 420.5h1M949 421.5h1M950 422.5h1M950 423.5h1M950 424.5h1M951 425.5h1M951 426.5h1M952 427.5h1M952 428.5h1M953 429.5h1M953 430.5h1M953 431.5h1M954 432.5h1M954 433.5h1M954 434.5h1M955 435.5h1M955 436.5h1M955 437.5h1M956 438.5h1M956 439.5h1M956 440.5h1M956 441.5h1M957 442.5h1M957 443.5h1M957 444.5h1M958 445.5h1M958 446.5h1M958 447.5h1M959 448.5h1M959 449.5h1M959 450.5h1M960 451.5h1M960 452.5h1M961 453.5h1M961 454.5h1M961 455.5h1M962 456.5h1M962 457.5h1M962 458.5h1M963 459.5h1M963 460.5h1M964 461.5h1M964 462.5h1M965 463.5h1M966 464.5h1M966 465.5h1M967 466.5h1M967 467.5h1M968 468.5h1M969 469.5h1M969 470.5h1M970 471.5h1M971 472.5h1M971 473.5h1M972 474.5h1M972 475.5h1M973 476.5h1M974 477.5h1M974 478.5h1M975 479.5h1M975 480.5h1M976 481.5h1M976 482.5h1M977 483.5h1M978 484.5h1M979 485.5h1M979 486.5h1M980 487.5h1M981 488.5h1M982 489.5h1M983 490.5h1M983 491.5h1M984 492.5h1M985 493.5h1M985 494.5h1M986 495.5h1M986 496.5h1M987 497.5h1M987 498.5h1M988 499.5h1M988 500.5h1M988 501.5h1M989 502.5h1M989 503.5h1M990 504.5h1M990 505.5h1M990 506.5h1M991 507.5h1M991 508.5h1M991 509.5h1M992 510.5h1M992 511.5h1M992 512.5h1M993 513.5h1M993 514.5h1M993 515.5h1M994 516.5h1M994 517.5h1M994 518.5h1M995 519.5h1M995 520.5h1M995 521.5h1M995 522.5h1M996 523.5h1M996 524.5h1M996 525.5h1M996 526.5h1M997 527.5h1M997 528.5h1M997 529.5h1M997 530.5h1M998 531.5h1M998 532.5h1M998 533.5h1M998 534.5h1M999 535.5h1M999 536.5h1M1000 537.5h1M1000 538.5h1M1000 539.5h1M1001 540.5h1M1001 541.5h1M1001 542.5h1M1002 543.5h1M1002 544.5h1M1003 545.5h1M1003 546.5h1M1004 547.5h1M1004 548.5h1M1005 549.5h1M1006 550.5h1M1007 551.5h1M1007 552.5h1M1008 553.5h1M1009 554.5h1M1010 555.5h1M1011 556.5h1M1012 557.5h1M1013 558.5h1M1024 558.5h2M1014 559.5h2M1022 559.5h2M1026 559.5h1M1016 560.5h2M1020 560.5h2M1026 560.5h1M1018 561.5h2M1027 561.5h1M1028 562.5h1M1029 563.5h1M1029 564.5h1M1030 565.5h1M1031 566.5h1M1032 567.5h1M1033 568.5h1M1033 569.5h1M1034 570.5h1M1035 571.5h1M1036 572.5h1M1036 573.5h1M1037 574.5h1M1038 575.5h1M1039 576.5h1M1039 577.5h1" stroke="#3cb371" stroke-width="1" fill="none" shape-rendering="crispEdges"/>
<path d="M1371 405.5h7M1350 406.5h21M1347 407.5h3M1345 408.5h2M1344 409.5h1M1343 410.5h1M1342 411.5h1M1341 412.5h1M1340 413.5h1M1339 414.5h1M1338 415.5h1M1337 416.5h1M1336 417.5h1M1335 418.5h1M1334 419.5h1M1334 420.5h1M1333 421.5h1M1332 422.5h1M1331 423.5h1M1330 424.5h1M1329 425.5h1M1328 426.5h1M1326 427.5h2M1325 428.5h1M1324 429.5h1M1323 430.5h1M1322 431.5h1M1321 432.5h1M1320 433.5h1M1319 434.5h1M1318 435.5h1M1317 436.5h1M1316 437.5h1M1315 438.5h1M1314 439.5h1M1314 440.5h1M1313 441.5h1M1312 442.5h1M1311 443.5h1M1310 444.5h1M1309 445.5h1M1307 446.5h2M1306 447.5h1M1303 448.5h3M1299 449.5h4M1289 450.5h10M1285 451.5h4M1282 452.5h3M1280 453.5h2M1212 454.5h10M1278 454.5h2M1210 455.5h2M1222 455.5h21M1277 455.5h1M1209 456.5h1M1243 456.5h5M1275 456.5h2M1208 457.5h1M1248 457.5h4M1273 457.5h2M1206 458.5h2M1252 458.5h4M1271 458.5h2M1205 459.5h1M1256 459.5h4M1267 459.5h4M1204 460.5h1M1260 460.5h7M1203 461.5h1M1202 462.5h1M1202 463.5h1M1201 464.5h1M1201 465.5h1M1200 466.5h1M1200 467.5h1M1200 468.5h1M1199 469.5h1M1199 470.5h1M1199 471.5h1M1199 472.5h1M1198 473.5h1M1198 474.5h1M1198 475.5h1M1198 476.5h1M1197 477.5h1M1197 478.5h1M1197 479.5h1M1197 480.5h1M1196 481.5h1M1196 482.5h1M1196 483.5h1M1196 484.5h1M1195 485.5h1M1195 486.5h1M1194 487.5h1M1194 488.5h1M1193 489.5h1M1193 490.5h1M1192 491.5h1M1192 492.5h1M1191 493.5h1M1191 494.5h1M1190 495.5h1M1189 496.5h1M1189 497.5h1M1188 498.5h1M1187 499.5h1M1186 500.5h1M1186 501.5h1M1177 502.5h9M1176 503.5h1M1175 504.5h1M1173 505.5h2M1172 506.5h1M1171 507.5h1M1170 508.5h1M1169 509.5h1M1168 510.5h1M1168 511.5h1M1167 512.5h1M1166 513.5h1M1165 514.5h1M1164 515.5h1M1164 516.5h1M1163 517.5h1M1162 518.5h1M1162 519.5h1M1161 520.5h1M1161 521.5h1M1160 522.5h1M1160 523.5h1M1160 524.5h1M1159 525.5h1M1159 526.5h1M1158 527.5h1M1158 528.5h1M1157 529.5h1M1157 530.5h1M1156 531.5h1M1156 532.5h1M1155 533.5h1M1155 534.5h1M1154 535.5h1M1154 536.5h1M1153 537.5h1M1151 538.5h2M1150 539.5h1M1149 540.5h1M1147 541.5h2M1103 542.5h25M1146 542.5h1M1093 543.5h10M1128 543.5h18M1087 544.5h6M1084 545.5h3M1082 546.5h2M1080 547.5h2M1078 548.5h2M1076 549.5h2M1075 550.5h1M1074 551.5h1M1073 552.5h1M1072 553.5h1M1071 554.5h1M1070 555.5h1M1069 556.5h1M1069 557.5h1M1068 558.5h1M1067 559.5h1M1067 560.5h1M1066 561.5h1M1065 562.5h1M1064 563.5h1M1064 564.5h1M1063 565.5h1M1062 566.5h1M1062 567.5h1M1061 568.5h1M1060 569.5h1M1059 570.5h1M1059 571.5h1M1058 572.5h1M1057 573.5h1M1056 574.5h1M1054 575.5h2M1053 576.5h1M1052 577.5h1" stroke="#3cb371" stroke-width="1" fill="none" shape-rendering="crispEdges"/>
<rect x="0" y="377" width="1602" height="1" fill="#c0c0c0"/>
<rect x="0" y="335" width="1602" height="1" fill="#ff0000"/>
<rect x="0" y="353" width="1602" height="1" fill="#ff0000"/>
<rect x="0" y="391" width="1602" height="1" fill="#32cd32"/>
<rect x="0" y="407" width="1602" height="1" fill="#0000ff"/>
<rect x="0" y="424" width="1602" height="1" fill="#0000ff"/>
<rect x="1" y="618" width="1" height="11" fill="#c0c0c0"/>
<rect x="9" y="611" width="1" height="18" fill="#c0c0c0"/>
<rect x="17" y="607" width="1" height="22" fill="#c0c0c0"/>
<rect x="25" y="604" width="1" height="25" fill="#c0c0c0"/>
<rect x="33" y="600" width="1" height="29" fill="#c0c0c0"/>
<rect x="41" y="597" width="1" height="32" fill="#c0c0c0"/>
<rect x="49" y="595" width="1" height="34" fill="#c0c0c0"/>
<rect x="57" y="594" width="1" height="35" fill="#c0c0c0"/>
<rect x="65" y="594" width="1" height="35" fill="#c0c0c0"/>
<rect x="73" y="595" width="1" height="34" fill="#c0c0c0"/>
<rect x="81" y="595" width="1" height="34" fill="#c0c0c0"/>
<rect x="89" y="595" width="1" height="34" fill="#c0c0c0"/>
<rect x="97" y="595" width="1" height="34" fill="#c0c0c0"/>
<rect x="105" y="596" width="1" height="33" fill="#c0c0c0"/>
<rect x="113" y="597" width="1" height="32" fill="#c0c0c0"/>
<rect x="121" y="595" width="1" height="34" fill="#c0c0c0"/>
<rect x="129" y="593" width="1" height="36" fill="#c0c0c0"/>
<rect x="137" y="591" width="1" height="38" fill="#c0c0c0"/>
<rect x="145" y="591" width="1" height="38" fill="#c0c0c0"/>
<rect x="153" y="592" width="1" height="37" fill="#c0c0c0"/>
<rect x="161" y="591" width="1" height="38" fill="#c0c0c0"/>
<rect x="169" y="590" width="1" height="39" fill="#c0c0c0"/>
<rect x="177" y="591" width="1" height="38" fill="#c0c0c0"/>
<rect x="185" y="591" width="1" height="38" fill="#c0c0c0"/>
<rect x="193" y="595" width="1" height="34" fill="#c0c0c0"/>
<rect x="201" y="598" width="1" height="31" fill="#c0c0c0"/>
<rect x="209" y="599" width="1" height="30" fill="#c0c0c0"/>
<rect x="217" y="601" width="1" height="28" fill="#c0c0c0"/>
<rect x="225" y="604" width="1" height="25" fill="#c0c0c0"/>
<rect x="233" y="608" width="1" height="21" fill="#c0c0c0"/>
<rect x="241" y="608" width="1" height="21" fill="#c0c0c0"/>
<rect x="249" y="607" width="1" height="22" fill="#c0c0c0"/>
<rect x="257" y="606" width="1" height="23" fill="#c0c0c0"/>
<rect x="265" y="606" width="1" height="23" fill="#c0c0c0"/>
<rect x="273" y="604" width="1" height="25" fill="#c0c0c0"/>
<rect x="281" y="601" width="1" height="28" fill="#c0c0c0"/>
<rect x="289" y="600" width="1" height="29" fill="#c0c0c0"/>
<rect x="297" y="601" width="1" height="28" fill="#c0c0c0"/>
<rect x="305" y="604" width="1" height="25" fill="#c0c0c0"/>
<rect x="313" y="604" width="1" height="25" fill="#c0c0c0"/>
<rect x="321" y="605" width="1" height="24" fill="#c0c0c0"/>
<rect x="329" y="605" width="1" height="24" fill="#c0c0c0"/>
<rect x="337" y="606" width="1" height="23" fill="#c0c0c0"/>
<rect x="345" y="605" width="1" height="24" fill="#c0c0c0"/>
<rect x="353" y="605" width="1" height="24" fill="#c0c0c0"/>
<rect x="361" y="608" width="1" height="21" fill="#c0c0c0"/>
<rect x="369" y="615" width="1" height="14" fill="#c0c0c0"/>
<rect x="377" y="622" width="1" height="7" fill="#c0c0c0"/>
<rect x="385" y="626" width="1" height="3" fill="#c0c0c0"/>
<rect x="401" y="628" width="1" height="4" fill="#c0c0c0"/>
<rect x="409" y="628" width="1" height="9" fill="#c0c0c0"/>
<rect x="417" y="628" width="1" height="10" fill="#c0c0c0"/>
<rect x="425" y="628" width="1" height="19" fill="#c0c0c0"/>
<rect x="433" y="628" width="1" height="25" fill="#c0c0c0"/>
<rect x="441" y="628" width="1" height="34" fill="#c0c0c0"/>
<rect x="449" y="628" width="1" height="42" fill="#c0c0c0"/>
<rect x="457" y="628" width="1" height="48" fill="#c0c0c0"/>
<rect x="465" y="628" width="1" height="52" fill="#c0c0c0"/>
<rect x="473" y="628" width="1" height="57" fill="#c0c0c0"/>
<rect x="481" y="628" width="1" height="59" fill="#c0c0c0"/>
<rect x="489" y="628" width="1" height="58" fill="#c0c0c0"/>
<rect x="497" y="628" width="1" height="54" fill="#c0c0c0"/>
<rect x="505" y="628" width="1" height="51" fill="#c0c0c0"/>
<rect x="513" y="628" width="1" height="48" fill="#c0c0c0"/>
<rect x="521" y="628" width="1" height="41" fill="#c0c0c0"/>
<rect x="529" y="628" width="1" height="34" fill="#c0c0c0"/>
<rect x="537" y="628" width="1" height="29" fill="#c0c0c0"/>
<rect x="545" y="628" width="1" height="25" fill="#c0c0c0"/>
<rect x="553" y="628" width="1" height="22" fill="#c0c0c0"/>
<rect x="561" y="628" width="1" height="20" fill="#c0c0c0"/>
<rect x="569" y="628" width="1" height="15" fill="#c0c0c0"/>
<rect x="577" y="628" width="1" height="10" fill="#c0c0c0"/>
<rect x="585" y="628" width="1" height="4" fill="#c0c0c0"/>
<rect x="593" y="628" width="1" height="1" fill="#c0c0c0"/>
<rect x="601" y="627" width="1" height="2" fill="#c0c0c0"/>
<rect x="609" y="625" width="1" height="4" fill="#c0c0c0"/>
<rect x="617" y="622" width="1" height="7" fill="#c0c0c0"/>
<rect x="625" y="621" width="1" height="8" fill="#c0c0c0"/>
<rect x="633" y="618" width="1" height="11" fill="#c0c0c0"/>
<rect x="641" y="617" width="1" height="12" fill="#c0c0c0"/>
<rect x="649" y="619" width="1" height="10" fill="#c0c0c0"/>
<rect x="657" y="621" width="1" height="8" fill="#c0c0c0"/>
<rect x="665" y="622" width="1" height="7" fill="#c0c0c0"/>
<rect x="673" y="622" width="1" height="7" fill="#c0c0c0"/>
<rect x="681" y="625" width="1" height="4" fill="#c0c0c0"/>
<rect x="689" y="626" width="1" height="3" fill="#c0c0c0"/>
<rect x="713" y="628" width="1" height="7" fill="#c0c0c0"/>
<rect x="721" y="628" width="1" height="12" fill="#c0c0c0"/>
<rect x="729" y="628" width="1" height="15" fill="#c0c0c0"/>
<rect x="737" y="628" width="1" height="17" fill="#c0c0c0"/>
<rect x="745" y="628" width="1" height="20" fill="#c0c0c0"/>
<rect x="753" y="628" width="1" height="22" fill="#c0c0c0"/>
<rect x="761" y="628" width="1" height="24" fill="#c0c0c0"/>
<rect x="769" y="628" width="1" height="24" fill="#c0c0c0"/>
<rect x="777" y="628" width="1" height="28" fill="#c0c0c0"/>
<rect x="785" y="628" width="1" height="31" fill="#c0c0c0"/>
<rect x="793" y="628" width="1" height="31" fill="#c0c0c0"/>
<rect x="801" y="628" width="1" height="31" fill="#c0c0c0"/>
<rect x="809" y="628" width="1" height="30" fill="#c0c0c0"/>
<rect x="817" y="628" width="1" height="30" fill="#c0c0c0"/>
<rect x="825" y="628" width="1" height="29" fill="#c0c0c0"/>
<rect x="833" y="628" width="1" height="29" fill="#c0c0c0"/>
<rect x="841" y="628" width="1" height="27" fill="#c0c0c0"/>
<rect x="849" y="628" width="1" height="23" fill="#c0c0c0"/>
<rect x="857" y="628" width="1" height="24" fill="#c0c0c0"/>
<rect x="865" y="628" width="1" height="25" fill="#c0c0c0"/>
<rect x="873" y="628" width="1" height="33" fill="#c0c0c0"/>
<rect x="881" y="628" width="1" height="42" fill="#c0c0c0"/>
<rect x="889" y="628" width="1" height="42" fill="#c0c0c0"/>
<rect x="897" y="628" width="1" height="43" fill="#c0c0c0"/>
<rect x="905" y="628" width="1" height="43" fill="#c0c0c0"/>
<rect x="913" y="628" width="1" height="45" fill="#c0c0c0"/>
<rect x="921" y="628" width="1" height="54" fill="#c0c0c0"/>
<rect x="929" y="628" width="1" height="61" fill="#c0c0c0"/>
<rect x="937" y="628" width="1" height="76" fill="#c0c0c0"/>
<rect x="945" y="628" width="1" height="78" fill="#c0c0c0"/>
<rect x="953" y="628" width="1" height="82" fill="#c0c0c0"/>
<rect x="961" y="628" width="1" height="91" fill="#c0c0c0"/>
<rect x="969" y="628" width="1" height="92" fill="#c0c0c0"/>
<rect x="977" y="628" width="1" height="94" fill="#c0c0c0"/>
<rect x="985" y="628" width="1" height="93" fill="#c0c0c0"/>
<rect x="993" y="628" width="1" height="100" fill="#c0c0c0"/>
<rect x="1001" y="628" width="1" height="111" fill="#c0c0c0"/>
<rect x="1009" y="628" width="1" height="114" fill="#c0c0c0"/>
<rect x="1017" y="628" width="1" height="111" fill="#c0c0c0"/>
<rect x="1025" y="628" width="1" height="101" fill="#c0c0c0"/>
<rect x="1033" y="628" width="1" height="103" fill="#c0c0c0"/>
<rect x="1041" y="628" width="1" height="104" fill="#c0c0c0"/>
<rect x="1049" y="628" width="1" height="97" fill="#c0c0c0"/>
<rect x="1057" y="628" width="1" height="88" fill="#c0c0c0"/>
<rect x="1065" y="628" width="1" height="77" fill="#c0c0c0"/>
<rect x="1073" y="628" width="1" height="64" fill="#c0c0c0"/>
<rect x="1081" y="628" width="1" height="52" fill="#c0c0c0"/>
<rect x="1089" y="628" width="1" height="47" fill="#c0c0c0"/>
<rect x="1097" y="628" width="1" height="38" fill="#c0c0c0"/>
<rect x="1105" y="628" width="1" height="32" fill="#c0c0c0"/>
<rect x="1113" y="628" width="1" height="29" fill="#c0c0c0"/>
<rect x="1121" y="628" width="1" height="28" fill="#c0c0c0"/>
<rect x="1129" y="628" width="1" height="23" fill="#c0c0c0"/>
<rect x="1137" y="628" width="1" height="17" fill="#c0c0c0"/>
<rect x="1145" y="628" width="1" height="15" fill="#c0c0c0"/>
<rect x="1153" y="628" width="1" height="16" fill="#c0c0c0"/>
<rect x="1161" y="628" width="1" height="16" fill="#c0c0c0"/>
<rect x="1169" y="628" width="1" height="14" fill="#c0c0c0"/>
<rect x="1177" y="628" width="1" height="14" fill="#c0c0c0"/>
<rect x="1185" y="628" width="1" height="12" fill="#c0c0c0"/>
<rect x="1193" y="628" width="1" height="9" fill="#c0c0c0"/>
<rect x="1201" y="628" width="1" height="4" fill="#c0c0c0"/>
<rect x="1217" y="621" width="1" height="8" fill="#c0c0c0"/>
<rect x="1225" y="618" width="1" height="11" fill="#c0c0c0"/>
<rect x="1233" y="617" width="1" height="12" fill="#c0c0c0"/>
<rect x="1241" y="614" width="1" height="15" fill="#c0c0c0"/>
<rect x="1249" y="611" width="1" height="18" fill="#c0c0c0"/>
<rect x="1257" y="607" width="1" height="22" fill="#c0c0c0"/>
<rect x="1265" y="604" width="1" height="25" fill="#c0c0c0"/>
<rect x="1273" y="603" width="1" height="26" fill="#c0c0c0"/>
<rect x="1281" y="605" width="1" height="24" fill="#c0c0c0"/>
<rect x="1289" y="607" width="1" height="22" fill="#c0c0c0"/>
<rect x="1297" y="609" width="1" height="20" fill="#c0c0c0"/>
<rect x="1305" y="606" width="1" height="23" fill="#c0c0c0"/>
<rect x="1313" y="606" width="1" height="23" fill="#c0c0c0"/>
<rect x="1321" y="606" width="1" height="23" fill="#c0c0c0"/>
<rect x="1329" y="606" width="1" height="23" fill="#c0c0c0"/>
<rect x="1337" y="612" width="1" height="17" fill="#c0c0c0"/>
<rect x="1345" y="616" width="1" height="13" fill="#c0c0c0"/>
<rect x="1353" y="621" width="1" height="8" fill="#c0c0c0"/>
<rect x="1361" y="622" width="1" height="7" fill="#c0c0c0"/>
<rect x="1369" y="623" width="1" height="6" fill="#c0c0c0"/>
<rect x="1377" y="624" width="1" height="5" fill="#c0c0c0"/>
<rect x="1" y="152" width="1" height="11" fill="#000"/>
<rect x="-1" y="154" width="5" height="8" fill="#000"/>
<rect x="0" y="155" width="3" height="6" fill="#fff"/>
<rect x="9" y="144" width="1" height="12" fill="#000"/>
<rect x="7" y="146" width="5" height="9" fill="#000"/>
<rect x="8" y="147" width="3" height="7" fill="#fff"/>
<rect x="17" y="144" width="1" height="15" fill="#000"/>
<rect x="15" y="153" width="5" height="1" fill="#000"/>
<rect x="25" y="150" width="1" height="9" fill="#000"/>
<rect x="23" y="152" width="5" height="3" fill="#000"/>
<rect x="33" y="136" width="1" height="20" fill="#000"/>
<rect x="31" y="138" width="5" height="14" fill="#000"/>
<rect x="32" y="139" width="3" height="12" fill="#fff"/>
<rect x="41" y="134" width="1" height="8" fill="#000"/>
<rect x="39" y="137" width="5" height="3" fill="#000"/>
<rect x="49" y="126" width="1" height="16" fill="#000"/>
<rect x="47" y="134" width="5" height="3" fill="#000"/>
<rect x="57" y="132" width="1" height="9" fill="#000"/>
<rect x="55" y="133" width="5" height="4" fill="#000"/>
<rect x="56" y="134" width="3" height="2" fill="#fff"/>
<rect x="65" y="130" width="1" height="18" fill="#000"/>
<rect x="63" y="134" width="5" height="11" fill="#000"/>
<rect x="73" y="137" width="1" height="9" fill="#000"/>
<rect x="71" y="140" width="5" height="6" fill="#000"/>
<rect x="72" y="141" width="3" height="4" fill="#fff"/>
<rect x="81" y="127" width="1" height="17" fill="#000"/>
<rect x="79" y="132" width="5" height="9" fill="#000"/>
<rect x="80" y="133" width="3" height="7" fill="#fff"/>
<rect x="89" y="131" width="1" height="9" fill="#000"/>
<rect x="87" y="132" width="5" height="1" fill="#000"/>
<rect x="97" y="124" width="1" height="14" fill="#000"/>
<rect x="95" y="125" width="5" height="9" fill="#000"/>
<rect x="105" y="133" width="1" height="5" fill="#000"/>
<rect x="103" y="133" width="5" height="5" fill="#000"/>
<rect x="113" y="127" width="1" height="9" fill="#000"/>
<rect x="111" y="129" width="5" height="3" fill="#000"/>
<rect x="121" y="100" width="1" height="21" fill="#000"/>
<rect x="119" y="104" width="5" height="16" fill="#000"/>
<rect x="120" y="105" width="3" height="14" fill="#fff"/>
<rect x="129" y="100" width="1" height="14" fill="#000"/>
<rect x="127" y="104" width="5" height="1" fill="#000"/>
<rect x="137" y="100" width="1" height="12" fill="#000"/>
<rect x="135" y="104" width="5" height="1" fill="#000"/>
<rect x="153" y="100" width="1" height="17" fill="#000"/>
<rect x="151" y="104" width="5" height="1" fill="#000"/>
<rect x="161" y="100" width="1" height="16" fill="#000"/>
<rect x="159" y="104" width="5" height="1" fill="#000"/>
<rect x="193" y="100" width="1" height="14" fill="#000"/>
<rect x="191" y="104" width="5" height="1" fill="#000"/>
<rect x="201" y="100" width="1" height="24" fill="#000"/>
<rect x="199" y="104" width="5" height="13" fill="#000"/>
<rect x="217" y="100" width="1" height="11" fill="#000"/>
<rect x="215" y="100" width="5" height="5" fill="#000"/>
<rect x="225" y="112" width="1" height="25" fill="#000"/>
<rect x="223" y="118" width="5" height="17" fill="#000"/>
<rect x="224" y="119" width="3" height="15" fill="#fff"/>
<rect x="233" y="118" width="1" height="11" fill="#000"/>
<rect x="231" y="118" width="5" height="8" fill="#000"/>
<rect x="241" y="98" width="1" height="8" fill="#000"/>
<rect x="239" y="100" width="5" height="3" fill="#000"/>
<rect x="240" y="101" width="3" height="1" fill="#fff"/>
<rect x="249" y="90" width="1" height="11" fill="#000"/>
<rect x="247" y="90" width="5" height="10" fill="#000"/>
<rect x="248" y="91" width="3" height="8" fill="#fff"/>
<rect x="257" y="83" width="1" height="12" fill="#000"/>
<rect x="255" y="88" width="5" height="1" fill="#000"/>
<rect x="265" y="84" width="1" height="8" fill="#000"/>
<rect x="263" y="88" width="5" height="1" fill="#000"/>
<rect x="273" y="65" width="1" height="20" fill="#000"/>
<rect x="271" y="70" width="5" height="15" fill="#000"/>
<rect x="272" y="71" width="3" height="13" fill="#fff"/>
<rect x="281" y="63" width="1" height="9" fill="#000"/>
<rect x="279" y="69" width="5" height="2" fill="#000"/>
<rect x="289" y="52" width="1" height="21" fill="#000"/>
<rect x="287" y="53" width="5" height="17" fill="#000"/>
<rect x="297" y="66" width="1" height="14" fill="#000"/>
<rect x="295" y="69" width="5" height="11" fill="#000"/>
<rect x="305" y="65" width="1" height="23" fill="#000"/>
<rect x="303" y="69" width="5" height="16" fill="#000"/>
<rect x="313" y="76" width="1" height="12" fill="#000"/>
<rect x="311" y="82" width="5" height="3" fill="#000"/>
<rect x="312" y="83" width="3" height="1" fill="#fff"/>
<rect x="321" y="64" width="1" height="19" fill="#000"/>
<rect x="319" y="76" width="5" height="3" fill="#000"/>
<rect x="329" y="72" width="1" height="8" fill="#000"/>
<rect x="327" y="72" width="5" height="7" fill="#000"/>
<rect x="328" y="73" width="3" height="5" fill="#fff"/>
<rect x="337" y="56" width="1" height="23" fill="#000"/>
<rect x="335" y="64" width="5" height="10" fill="#000"/>
<rect x="345" y="61" width="1" height="15" fill="#000"/>
<rect x="343" y="61" width="5" height="13" fill="#000"/>
<rect x="344" y="62" width="3" height="11" fill="#fff"/>
<rect x="353" y="53" width="1" height="17" fill="#000"/>
<rect x="351" y="56" width="5" height="14" fill="#000"/>
<rect x="361" y="66" width="1" height="20" fill="#000"/>
<rect x="359" y="69" width="5" height="17" fill="#000"/>
<rect x="369" y="90" width="1" height="32" fill="#000"/>
<rect x="367" y="92" width="5" height="28" fill="#000"/>
<rect x="377" y="116" width="1" height="22" fill="#000"/>
<rect x="375" y="120" width="5" height="15" fill="#000"/>
<rect x="385" y="112" width="1" height="21" fill="#000"/>
<rect x="383" y="115" width="5" height="10" fill="#000"/>
<rect x="384" y="116" width="3" height="8" fill="#fff"/>
<rect x="393" y="104" width="1" height="14" fill="#000"/>
<rect x="391" y="110" width="5" height="5" fill="#000"/>
<rect x="392" y="111" width="3" height="3" fill="#fff"/>
<rect x="401" y="120" width="1" height="20" fill="#000"/>
<rect x="399" y="125" width="5" height="13" fill="#000"/>
<rect x="409" y="135" width="1" height="12" fill="#000"/>
<rect x="407" y="138" width="5" height="2" fill="#000"/>
<rect x="417" y="132" width="1" height="14" fill="#000"/>
<rect x="415" y="136" width="5" height="10" fill="#000"/>
<rect x="416" y="137" width="3" height="8" fill="#fff"/>
<rect x="425" y="173" width="1" height="21" fill="#000"/>
<rect x="423" y="175" width="5" height="17" fill="#000"/>
<rect x="424" y="176" width="3" height="15" fill="#fff"/>
<rect x="433" y="172" width="1" height="16" fill="#000"/>
<rect x="431" y="176" width="5" height="11" fill="#000"/>
<rect x="441" y="185" width="1" height="30" fill="#000"/>
<rect x="439" y="196" width="5" height="17" fill="#000"/>
<rect x="449" y="211" width="1" height="26" fill="#000"/>
<rect x="447" y="213" width="5" height="19" fill="#000"/>
<rect x="457" y="205" width="1" height="22" fill="#000"/>
<rect x="455" y="208" width="5" height="16" fill="#000"/>
<rect x="465" y="221" width="1" height="18" fill="#000"/>
<rect x="463" y="223" width="5" height="15" fill="#000"/>
<rect x="473" y="224" width="1" height="28" fill="#000"/>
<rect x="471" y="236" width="5" height="4" fill="#000"/>
<rect x="472" y="237" width="3" height="2" fill="#fff"/>
<rect x="481" y="227" width="1" height="14" fill="#000"/>
<rect x="479" y="238" width="5" height="3" fill="#000"/>
<rect x="489" y="212" width="1" height="22" fill="#000"/>
<rect x="487" y="218" width="5" height="13" fill="#000"/>
<rect x="488" y="219" width="3" height="11" fill="#fff"/>
<rect x="497" y="204" width="1" height="20" fill="#000"/>
<rect x="495" y="204" width="5" height="14" fill="#000"/>
<rect x="496" y="205" width="3" height="12" fill="#fff"/>
<rect x="505" y="200" width="1" height="17" fill="#000"/>
<rect x="503" y="203" width="5" height="5" fill="#000"/>
<rect x="513" y="206" width="1" height="14" fill="#000"/>
<rect x="511" y="207" width="5" height="2" fill="#000"/>
<rect x="521" y="175" width="1" height="21" fill="#000"/>
<rect x="519" y="175" width="5" height="16" fill="#000"/>
<rect x="520" y="176" width="3" height="14" fill="#fff"/>
<rect x="529" y="155" width="1" height="18" fill="#000"/>
<rect x="527" y="166" width="5" height="7" fill="#000"/>
<rect x="528" y="167" width="3" height="5" fill="#fff"/>
<rect x="537" y="169" width="1" height="14" fill="#000"/>
<rect x="535" y="178" width="5" height="5" fill="#000"/>
<rect x="536" y="179" width="3" height="3" fill="#fff"/>
<rect x="545" y="170" width="1" height="13" fill="#000"/>
<rect x="543" y="173" width="5" height="6" fill="#000"/>
<rect x="544" y="174" width="3" height="4" fill="#fff"/>
<rect x="553" y="175" width="1" height="22" fill="#000"/>
<rect x="551" y="183" width="5" height="14" fill="#000"/>
<rect x="552" y="184" width="3" height="12" fill="#fff"/>
<rect x="561" y="178" width="1" height="9" fill="#000"/>
<rect x="559" y="184" width="5" height="1" fill="#000"/>
<rect x="569" y="152" width="1" height="22" fill="#000"/>
<rect x="567" y="158" width="5" height="16" fill="#000"/>
<rect x="568" y="159" width="3" height="14" fill="#fff"/>
<rect x="577" y="153" width="1" height="8" fill="#000"/>
<rect x="575" y="155" width="5" height="3" fill="#000"/>
<rect x="576" y="156" width="3" height="1" fill="#fff"/>
<rect x="585" y="145" width="1" height="13" fill="#000"/>
<rect x="583" y="146" width="5" height="6" fill="#000"/>
<rect x="584" y="147" width="3" height="4" fill="#fff"/>
<rect x="593" y="139" width="1" height="7" fill="#000"/>
<rect x="591" y="142" width="5" height="4" fill="#000"/>
<rect x="592" y="143" width="3" height="2" fill="#fff"/>
<rect x="601" y="138" width="1" height="15" fill="#000"/>
<rect x="599" y="140" width="5" height="8" fill="#000"/>
<rect x="609" y="147" width="1" height="7" fill="#000"/>
<rect x="607" y="150" width="5" height="1" fill="#000"/>
<rect x="617" y="134" width="1" height="19" fill="#000"/>
<rect x="615" y="140" width="5" height="8" fill="#000"/>
<rect x="616" y="141" width="3" height="6" fill="#fff"/>
<rect x="625" y="137" width="1" height="10" fill="#000"/>
<rect x="623" y="139" width="5" height="5" fill="#000"/>
<rect x="633" y="129" width="1" height="22" fill="#000"/>
<rect x="631" y="135" width="5" height="15" fill="#000"/>
<rect x="632" y="136" width="3" height="13" fill="#fff"/>
<rect x="641" y="127" width="1" height="12" fill="#000"/>
<rect x="639" y="135" width="5" height="3" fill="#000"/>
<rect x="649" y="146" width="1" height="16" fill="#000"/>
<rect x="647" y="146" width="5" height="14" fill="#000"/>
<rect x="657" y="157" width="1" height="8" fill="#000"/>
<rect x="655" y="160" width="5" height="5" fill="#000"/>
<rect x="665" y="150" width="1" height="17" fill="#000"/>
<rect x="663" y="154" width="5" height="8" fill="#000"/>
<rect x="664" y="155" width="3" height="6" fill="#fff"/>
<rect x="673" y="151" width="1" height="7" fill="#000"/>
<rect x="671" y="154" width="5" height="1" fill="#000"/>
<rect x="681" y="146" width="1" height="29" fill="#000"/>
<rect x="679" y="146" width="5" height="25" fill="#000"/>
<rect x="689" y="156" width="1" height="14" fill="#000"/>
<rect x="687" y="164" width="5" height="5" fill="#000"/>
<rect x="688" y="165" width="3" height="3" fill="#fff"/>
<rect x="697" y="166" width="1" height="15" fill="#000"/>
<rect x="695" y="170" width="5" height="4" fill="#000"/>
<rect x="696" y="171" width="3" height="2" fill="#fff"/>
<rect x="705" y="168" width="1" height="13" fill="#000"/>
<rect x="703" y="170" width="5" height="9" fill="#000"/>
<rect x="713" y="187" width="1" height="21" fill="#000"/>
<rect x="711" y="191" width="5" height="13" fill="#000"/>
<rect x="721" y="199" width="1" height="13" fill="#000"/>
<rect x="719" y="202" width="5" height="10" fill="#000"/>
<rect x="729" y="201" width="1" height="16" fill="#000"/>
<rect x="727" y="208" width="5" height="9" fill="#000"/>
<rect x="728" y="209" width="3" height="7" fill="#fff"/>
<rect x="737" y="202" width="1" height="10" fill="#000"/>
<rect x="735" y="205" width="5" height="4" fill="#000"/>
<rect x="736" y="206" width="3" height="2" fill="#fff"/>
<rect x="745" y="211" width="1" height="26" fill="#000"/>
<rect x="743" y="212" width="5" height="25" fill="#000"/>
<rect x="744" y="213" width="3" height="23" fill="#fff"/>
<rect x="753" y="212" width="1" height="9" fill="#000"/>
<rect x="751" y="213" width="5" height="5" fill="#000"/>
<rect x="761" y="220" width="1" height="12" fill="#000"/>
<rect x="759" y="224" width="5" height="6" fill="#000"/>
<rect x="760" y="225" width="3" height="4" fill="#fff"/>
<rect x="769" y="200" width="1" height="29" fill="#000"/>
<rect x="767" y="210" width="5" height="18" fill="#000"/>
<rect x="768" y="211" width="3" height="16" fill="#fff"/>
<rect x="777" y="234" width="1" height="24" fill="#000"/>
<rect x="775" y="243" width="5" height="5" fill="#000"/>
<rect x="785" y="235" width="1" height="22" fill="#000"/>
<rect x="783" y="242" width="5" height="12" fill="#000"/>
<rect x="784" y="243" width="3" height="10" fill="#fff"/>
<rect x="793" y="230" width="1" height="28" fill="#000"/>
<rect x="791" y="232" width="5" height="24" fill="#000"/>
<rect x="792" y="233" width="3" height="22" fill="#fff"/>
<rect x="801" y="231" width="1" height="9" fill="#000"/>
<rect x="799" y="235" width="5" height="1" fill="#000"/>
<rect x="809" y="220" width="1" height="14" fill="#000"/>
<rect x="807" y="220" width="5" height="5" fill="#000"/>
<rect x="817" y="227" width="1" height="16" fill="#000"/>
<rect x="815" y="228" width="5" height="6" fill="#000"/>
<rect x="825" y="232" width="1" height="23" fill="#000"/>
<rect x="823" y="234" width="5" height="4" fill="#000"/>
<rect x="824" y="235" width="3" height="2" fill="#fff"/>
<rect x="833" y="230" width="1" height="14" fill="#000"/>
<rect x="831" y="234" width="5" height="10" fill="#000"/>
<rect x="841" y="222" width="1" height="16" fill="#000"/>
<rect x="839" y="223" width="5" height="12" fill="#000"/>
<rect x="840" y="224" width="3" height="10" fill="#fff"/>
<rect x="849" y="204" width="1" height="20" fill="#000"/>
<rect x="847" y="210" width="5" height="14" fill="#000"/>
<rect x="848" y="211" width="3" height="12" fill="#fff"/>
<rect x="857" y="227" width="1" height="21" fill="#000"/>
<rect x="855" y="230" width="5" height="16" fill="#000"/>
<rect x="865" y="244" width="1" height="9" fill="#000"/>
<rect x="863" y="246" width="5" height="6" fill="#000"/>
<rect x="873" y="297" width="1" height="23" fill="#000"/>
<rect x="871" y="306" width="5" height="2" fill="#000"/>
<rect x="881" y="304" width="1" height="23" fill="#000"/>
<rect x="879" y="310" width="5" height="15" fill="#000"/>
<rect x="889" y="284" width="1" height="35" fill="#000"/>
<rect x="887" y="284" width="5" height="22" fill="#000"/>
<rect x="888" y="285" width="3" height="20" fill="#fff"/>
<rect x="897" y="279" width="1" height="17" fill="#000"/>
<rect x="895" y="283" width="5" height="5" fill="#000"/>
<rect x="905" y="285" width="1" height="16" fill="#000"/>
<rect x="903" y="287" width="5" height="7" fill="#000"/>
<rect x="913" y="296" width="1" height="14" fill="#000"/>
<rect x="911" y="296" width="5" height="11" fill="#000"/>
<rect x="921" y="334" width="1" height="43" fill="#000"/>
<rect x="919" y="335" width="5" height="32" fill="#000"/>
<rect x="929" y="350" width="1" height="25" fill="#000"/>
<rect x="927" y="356" width="5" height="17" fill="#000"/>
<rect x="937" y="428" width="1" height="66" fill="#000"/>
<rect x="935" y="452" width="5" height="18" fill="#000"/>
<rect x="936" y="453" width="3" height="16" fill="#fff"/>
<rect x="945" y="366" width="1" height="60" fill="#000"/>
<rect x="943" y="384" width="5" height="42" fill="#000"/>
<rect x="944" y="385" width="3" height="40" fill="#fff"/>
<rect x="953" y="405" width="1" height="42" fill="#000"/>
<rect x="951" y="414" width="5" height="22" fill="#000"/>
<rect x="952" y="415" width="3" height="20" fill="#fff"/>
<rect x="961" y="416" width="1" height="44" fill="#000"/>
<rect x="959" y="417" width="5" height="40" fill="#000"/>
<rect x="969" y="414" width="1" height="52" fill="#000"/>
<rect x="967" y="424" width="5" height="29" fill="#000"/>
<rect x="968" y="425" width="3" height="27" fill="#fff"/>
<rect x="977" y="417" width="1" height="30" fill="#000"/>
<rect x="975" y="418" width="5" height="20" fill="#000"/>
<rect x="985" y="415" width="1" height="47" fill="#000"/>
<rect x="983" y="426" width="5" height="36" fill="#000"/>
<rect x="984" y="427" width="3" height="34" fill="#fff"/>
<rect x="993" y="426" width="1" height="75" fill="#000"/>
<rect x="991" y="426" width="5" height="75" fill="#000"/>
<rect x="1001" y="479" width="1" height="87" fill="#000"/>
<rect x="999" y="500" width="5" height="49" fill="#000"/>
<rect x="1009" y="505" width="1" height="52" fill="#000"/>
<rect x="1007" y="510" width="5" height="37" fill="#000"/>
<rect x="1008" y="511" width="3" height="35" fill="#fff"/>
<rect x="1017" y="461" width="1" height="37" fill="#000"/>
<rect x="1015" y="484" width="5" height="14" fill="#000"/>
<rect x="1016" y="485" width="3" height="12" fill="#fff"/>
<rect x="1025" y="432" width="1" height="62" fill="#000"/>
<rect x="1023" y="434" width="5" height="47" fill="#000"/>
<rect x="1024" y="435" width="3" height="45" fill="#fff"/>
<rect x="1033" y="497" width="1" height="48" fill="#000"/>
<rect x="1031" y="507" width="5" height="38" fill="#000"/>
<rect x="1032" y="508" width="3" height="36" fill="#fff"/>
<rect x="1041" y="497" width="1" height="42" fill="#000"/>
<rect x="1039" y="503" width="5" height="30" fill="#000"/>
<rect x="1049" y="458" width="1" height="17" fill="#000"/>
<rect x="1047" y="469" width="5" height="3" fill="#000"/>
<rect x="1057" y="452" width="1" height="25" fill="#000"/>
<rect x="1055" y="457" width="5" height="15" fill="#000"/>
<rect x="1056" y="458" width="3" height="13" fill="#fff"/>
<rect x="1065" y="408" width="1" height="29" fill="#000"/>
<rect x="1063" y="423" width="5" height="8" fill="#000"/>
<rect x="1073" y="400" width="1" height="35" fill="#000"/>
<rect x="1071" y="401" width="5" height="34" fill="#000"/>
<rect x="1072" y="402" width="3" height="32" fill="#fff"/>
<rect x="1081" y="404" width="1" height="29" fill="#000"/>
<rect x="1079" y="408" width="5" height="3" fill="#000"/>
<rect x="1080" y="409" width="3" height="1" fill="#fff"/>
<rect x="1089" y="406" width="1" height="25" fill="#000"/>
<rect x="1087" y="408" width="5" height="21" fill="#000"/>
<rect x="1097" y="386" width="1" height="26" fill="#000"/>
<rect x="1095" y="386" width="5" height="8" fill="#000"/>
<rect x="1105" y="402" width="1" height="18" fill="#000"/>
<rect x="1103" y="403" width="5" height="6" fill="#000"/>
<rect x="1113" y="425" width="1" height="30" fill="#000"/>
<rect x="1111" y="428" width="5" height="27" fill="#000"/>
<rect x="1112" y="429" width="3" height="25" fill="#fff"/>
<rect x="1121" y="406" width="1" height="33" fill="#000"/>
<rect x="1119" y="424" width="5" height="15" fill="#000"/>
<rect x="1129" y="396" width="1" height="22" fill="#000"/>
<rect x="1127" y="406" width="5" height="8" fill="#000"/>
<rect x="1137" y="392" width="1" height="34" fill="#000"/>
<rect x="1135" y="395" width="5" height="24" fill="#000"/>
<rect x="1136" y="396" width="3" height="22" fill="#fff"/>
<rect x="1145" y="404" width="1" height="22" fill="#000"/>
<rect x="1143" y="417" width="5" height="1" fill="#000"/>
<rect x="1153" y="413" width="1" height="33" fill="#000"/>
<rect x="1151" y="418" width="5" height="26" fill="#000"/>
<rect x="1161" y="428" width="1" height="31" fill="#000"/>
<rect x="1159" y="435" width="5" height="24" fill="#000"/>
<rect x="1160" y="436" width="3" height="22" fill="#fff"/>
<rect x="1169" y="421" width="1" height="22" fill="#000"/>
<rect x="1167" y="422" width="5" height="14" fill="#000"/>
<rect x="1168" y="423" width="3" height="12" fill="#fff"/>
<rect x="1177" y="425" width="1" height="14" fill="#000"/>
<rect x="1175" y="432" width="5" height="4" fill="#000"/>
<rect x="1176" y="433" width="3" height="2" fill="#fff"/>
<rect x="1185" y="423" width="1" height="13" fill="#000"/>
<rect x="1183" y="426" width="5" height="10" fill="#000"/>
<rect x="1184" y="427" width="3" height="8" fill="#fff"/>
<rect x="1193" y="393" width="1" height="29" fill="#000"/>
<rect x="1191" y="393" width="5" height="14" fill="#000"/>
<rect x="1201" y="385" width="1" height="24" fill="#000"/>
<rect x="1199" y="388" width="5" height="19" fill="#000"/>
<rect x="1200" y="389" width="3" height="17" fill="#fff"/>
<rect x="1209" y="367" width="1" height="22" fill="#000"/>
<rect x="1207" y="375" width="5" height="14" fill="#000"/>
<rect x="1217" y="349" width="1" height="39" fill="#000"/>
<rect x="1215" y="350" width="5" height="36" fill="#000"/>
<rect x="1216" y="351" width="3" height="34" fill="#fff"/>
<rect x="1225" y="363" width="1" height="18" fill="#000"/>
<rect x="1223" y="373" width="5" height="6" fill="#000"/>
<rect x="1233" y="366" width="1" height="23" fill="#000"/>
<rect x="1231" y="371" width="5" height="18" fill="#000"/>
<rect x="1241" y="361" width="1" height="15" fill="#000"/>
<rect x="1239" y="364" width="5" height="4" fill="#000"/>
<rect x="1249" y="355" width="1" height="19" fill="#000"/>
<rect x="1247" y="364" width="5" height="3" fill="#000"/>
<rect x="1248" y="365" width="3" height="1" fill="#fff"/>
<rect x="1257" y="339" width="1" height="23" fill="#000"/>
<rect x="1255" y="348" width="5" height="12" fill="#000"/>
<rect x="1256" y="349" width="3" height="10" fill="#fff"/>
<rect x="1265" y="341" width="1" height="14" fill="#000"/>
<rect x="1263" y="344" width="5" height="8" fill="#000"/>
<rect x="1273" y="338" width="1" height="22" fill="#000"/>
<rect x="1271" y="351" width="5" height="3" fill="#000"/>
<rect x="1281" y="351" width="1" height="25" fill="#000"/>
<rect x="1279" y="351" width="5" height="24" fill="#000"/>
<rect x="1289" y="370" width="1" height="18" fill="#000"/>
<rect x="1287" y="381" width="5" height="1" fill="#000"/>
<rect x="1297" y="369" width="1" height="13" fill="#000"/>
<rect x="1295" y="379" width="5" height="1" fill="#000"/>
<rect x="1305" y="334" width="1" height="16" fill="#000"/>
<rect x="1303" y="341" width="5" height="5" fill="#000"/>
<rect x="1304" y="342" width="3" height="3" fill="#fff"/>
<rect x="1313" y="336" width="1" height="25" fill="#000"/>
<rect x="1311" y="341" width="5" height="14" fill="#000"/>
<rect x="1321" y="347" width="1" height="19" fill="#000"/>
<rect x="1319" y="352" width="5" height="7" fill="#000"/>
<rect x="1320" y="353" width="3" height="5" fill="#fff"/>
<rect x="1329" y="353" width="1" height="9" fill="#000"/>
<rect x="1327" y="353" width="5" height="7" fill="#000"/>
<rect x="1337" y="361" width="1" height="39" fill="#000"/>
<rect x="1335" y="368" width="5" height="20" fill="#000"/>
<rect x="1345" y="383" width="1" height="13" fill="#000"/>
<rect x="1343" y="390" width="5" height="1" fill="#000"/>
<rect x="1353" y="398" width="1" height="14" fill="#000"/>
<rect x="1351" y="400" width="5" height="9" fill="#000"/>
<rect x="1352" y="401" width="3" height="7" fill="#fff"/>
<rect x="1361" y="381" width="1" height="23" fill="#000"/>
<rect x="1359" y="386" width="5" height="18" fill="#000"/>
<rect x="1360" y="387" width="3" height="16" fill="#fff"/>
<rect x="1369" y="371" width="1" height="18" fill="#000"/>
<rect x="1367" y="381" width="5" height="2" fill="#000"/>
<rect x="1377" y="372" width="1" height="12" fill="#000"/>
<rect x="1375" y="377" width="5" height="4" fill="#000"/>
<rect x="1376" y="378" width="3" height="2" fill="#fff"/>
<rect x="1199" y="388" width="209" height="7" fill="#00ff00"/>
<rect x="0" y="25" width="1603" height="1" fill="#000"/>
<rect x="1602" y="25" width="1" height="902" fill="#000"/>
<rect x="0" y="578" width="1603" height="1" fill="#000"/>
<rect x="0" y="580" width="1603" height="1" fill="#000"/>
<rect x="0" y="750" width="1603" height="1" fill="#000"/>
<rect x="0" y="752" width="1603" height="1" fill="#000"/>
<rect x="0" y="926" width="1603" height="1" fill="#000"/>
<rect x="57" y="927" width="1" height="4" fill="#000"/>
<rect x="121" y="927" width="1" height="4" fill="#000"/>
<rect x="185" y="927" width="1" height="4" fill="#000"/>
<rect x="249" y="927" width="1" height="4" fill="#000"/>
<rect x="313" y="927" width="1" height="4" fill="#000"/>
<rect x="377" y="927" width="1" height="4" fill="#000"/>
<rect x="441" y="927" width="1" height="4" fill="#000"/>
<rect x="505" y="927" width="1" height="4" fill="#000"/>
<rect x="569" y="927" width="1" height="4" fill="#000"/>
<rect x="633" y="927" width="1" height="4" fill="#000"/>
<rect x="697" y="927" width="1" height="4" fill="#000"/>
<rect x="761" y="927" width="1" height="4" fill="#000"/>
<rect x="825" y="927" width="1" height="4" fill="#000"/>
<rect x="889" y="927" width="1" height="4" fill="#000"/>
<rect x="953" y="927" width="1" height="4" fill="#000"/>
<rect x="1017" y="927" width="1" height="4" fill="#000"/>
<rect x="1081" y="927" width="1" height="4" fill="#000"/>
<rect x="1145" y="927" width="1" height="4" fill="#000"/>
<rect x="1209" y="927" width="1" height="4" fill="#000"/>
<rect x="1273" y="927" width="1" height="4" fill="#000"/>
<rect x="1337" y="927" width="1" height="4" fill="#000"/>
</g>
<path d="M168 591.5h3M174 591.5h3M180 591.5h3M186 591.5h3M192 591.5h3M198 591.5h3M204 591.5h3M158 592.5h1M162 592.5h3M210 592.5h1M133 593.5h2M138 593.5h3M144 593.5h3M150 593.5h3M156 593.5h2M211 593.5h2M216 593.5h3M96 594.5h3M102 594.5h3M108 594.5h3M114 594.5h3M120 594.5h3M126 594.5h3M132 594.5h1M222 594.5h3M90 595.5h3M228 595.5h1M84 596.5h3M229 596.5h2M78 597.5h3M234 597.5h3M74 598.5h1M72 599.5h2M240 599.5h3M68 600.5h1M246 600.5h2M66 601.5h2M248 601.5h1M252 601.5h2M62 602.5h1M254 602.5h1M258 602.5h3M313 602.5h2M318 602.5h3M324 602.5h3M330 602.5h3M336 602.5h3M342 602.5h3M348 602.5h3M60 603.5h2M264 603.5h3M306 603.5h3M312 603.5h1M354 603.5h3M360 603.5h2M270 604.5h3M276 604.5h3M282 604.5h3M288 604.5h3M294 604.5h3M300 604.5h3M362 604.5h1M366 604.5h2M55 605.5h2M368 605.5h1M1316 605.5h1M1320 605.5h3M1326 605.5h3M1332 605.5h3M54 606.5h1M372 606.5h3M1314 606.5h2M1338 606.5h3M378 607.5h2M1302 607.5h3M1308 607.5h3M1344 607.5h2M50 608.5h1M380 608.5h1M1296 608.5h3M1346 608.5h1M1350 608.5h3M48 609.5h2M1286 609.5h1M1290 609.5h3M1356 609.5h2M384 610.5h3M1280 610.5h1M1284 610.5h2M1358 610.5h1M44 611.5h1M390 611.5h1M1278 611.5h2M1362 611.5h3M42 612.5h2M391 612.5h2M1368 612.5h3M396 613.5h2M1274 613.5h1M1374 613.5h3M38 614.5h1M398 614.5h1M1273 614.5h1M36 615.5h2M1272 615.5h1M402 616.5h2M1266 616.5h3M404 617.5h1M31 618.5h2M1261 618.5h2M30 619.5h1M408 619.5h2M1260 619.5h1M410 620.5h1M660 620.5h3M666 620.5h3M672 620.5h3M678 620.5h3M684 620.5h3M690 620.5h3M26 621.5h1M696 621.5h3M1256 621.5h1M24 622.5h2M414 622.5h2M654 622.5h3M702 622.5h3M1254 622.5h2M416 623.5h1M648 623.5h3M708 623.5h1M18 624.5h3M643 624.5h2M709 624.5h2M1249 624.5h2M642 625.5h1M714 625.5h3M1248 625.5h1M13 626.5h2M420 626.5h2M12 627.5h1M422 627.5h1M636 627.5h3M720 627.5h1M1242 627.5h3M721 628.5h2M1237 628.5h2M7 629.5h2M426 629.5h1M631 629.5h2M726 629.5h3M1236 629.5h1M6 630.5h1M427 630.5h2M630 630.5h1M732 630.5h3M2 631.5h1M625 631.5h2M1231 631.5h2M0 632.5h2M432 632.5h2M624 632.5h1M738 632.5h2M1230 632.5h1M434 633.5h1M620 633.5h1M740 633.5h1M618 634.5h2M744 634.5h1M1224 634.5h3M745 635.5h2M438 636.5h1M614 636.5h1M1220 636.5h1M439 637.5h2M612 637.5h2M750 637.5h2M1218 637.5h2M752 638.5h1M1212 638.5h3M606 639.5h3M756 639.5h3M1202 640.5h1M1206 640.5h3M444 641.5h2M602 641.5h1M762 641.5h2M1200 641.5h2M446 642.5h1M600 642.5h2M764 642.5h1M1194 643.5h3M596 644.5h1M768 644.5h2M1189 644.5h2M450 645.5h1M594 645.5h2M770 645.5h1M1188 645.5h1M451 646.5h2M774 646.5h2M1182 646.5h3M776 647.5h1M780 647.5h1M1176 647.5h3M456 648.5h1M590 648.5h1M781 648.5h2M1172 648.5h1M457 649.5h1M588 649.5h2M786 649.5h2M1170 649.5h2M458 650.5h1M788 650.5h1M1165 650.5h2M1164 651.5h1M462 652.5h1M583 652.5h2M792 652.5h3M1158 652.5h3M463 653.5h1M582 653.5h1M798 653.5h2M1154 653.5h1M464 654.5h1M800 654.5h1M804 654.5h2M1152 654.5h2M806 655.5h1M810 655.5h3M577 656.5h2M816 656.5h3M858 656.5h3M864 656.5h3M870 656.5h3M876 656.5h3M1148 656.5h1M468 657.5h2M576 657.5h1M822 657.5h3M828 657.5h3M834 657.5h3M840 657.5h3M846 657.5h3M852 657.5h3M882 657.5h3M1147 657.5h1M470 658.5h1M888 658.5h3M1146 658.5h1M572 659.5h1M894 659.5h3M570 660.5h2M474 661.5h1M900 661.5h3M1142 661.5h1M475 662.5h1M566 662.5h1M906 662.5h3M1140 662.5h2M476 663.5h1M564 663.5h2M912 664.5h3M560 665.5h1M1136 665.5h1M480 666.5h2M558 666.5h2M918 666.5h2M1135 666.5h1M482 667.5h1M920 667.5h1M1134 667.5h1M554 668.5h1M552 669.5h2M924 669.5h3M486 670.5h1M1130 670.5h1M487 671.5h1M547 671.5h2M930 671.5h1M1129 671.5h1M488 672.5h1M546 672.5h1M931 672.5h2M1128 672.5h1M492 674.5h2M542 674.5h1M494 675.5h1M540 675.5h2M936 675.5h1M937 676.5h1M1124 676.5h1M498 677.5h2M535 677.5h2M938 677.5h1M1123 677.5h1M500 678.5h1M534 678.5h1M1122 678.5h1M504 679.5h3M524 679.5h1M528 679.5h3M510 680.5h3M516 680.5h3M522 680.5h2M942 680.5h1M943 681.5h1M944 682.5h1M1117 682.5h2M1116 683.5h1M948 684.5h2M950 685.5h1M954 687.5h2M1112 687.5h1M956 688.5h1M1111 688.5h1M1110 689.5h1M960 691.5h1M961 692.5h2M1106 693.5h1M1105 694.5h1M966 695.5h1M1104 695.5h1M967 696.5h1M968 697.5h1M972 699.5h1M1100 699.5h1M973 700.5h1M1099 700.5h1M974 701.5h1M1098 701.5h1M978 704.5h2M980 705.5h1M1094 705.5h1M1092 706.5h2M984 707.5h2M986 708.5h1M990 710.5h1M1088 710.5h1M991 711.5h1M1087 711.5h1M992 712.5h1M1086 712.5h1M996 715.5h1M997 716.5h1M1082 716.5h1M998 717.5h1M1081 717.5h1M1080 718.5h1M1002 719.5h1M1003 720.5h2M1076 721.5h1M1008 722.5h1M1075 722.5h1M1009 723.5h2M1074 723.5h1M1014 725.5h1M1015 726.5h2M1069 726.5h2M1068 727.5h1M1020 728.5h3M1064 728.5h1M1026 729.5h3M1062 729.5h2M1032 730.5h3M1056 730.5h3M1038 731.5h3M1044 731.5h3M1050 731.5h3" stroke="#ff0000" stroke-width="1" fill="none" shape-rendering="crispEdges"/>
<path d="M137 790.5h1M135 791.5h2M138 791.5h1M133 792.5h2M139 792.5h1M132 793.5h1M140 793.5h1M130 794.5h2M141 794.5h2M121 795.5h9M143 795.5h1M9 796.5h1M55 796.5h3M120 796.5h1M144 796.5h1M7 797.5h2M10 797.5h1M33 797.5h2M51 797.5h4M58 797.5h1M120 797.5h1M145 797.5h1M5 798.5h2M11 798.5h1M32 798.5h1M35 798.5h4M45 798.5h6M58 798.5h1M119 798.5h1M146 798.5h1M165 798.5h5M4 799.5h1M12 799.5h1M31 799.5h1M39 799.5h6M59 799.5h1M118 799.5h1M147 799.5h1M161 799.5h4M170 799.5h2M2 800.5h2M13 800.5h1M29 800.5h2M59 800.5h1M117 800.5h1M147 800.5h1M160 800.5h1M172 800.5h2M1 801.5h1M14 801.5h1M28 801.5h1M60 801.5h1M117 801.5h1M148 801.5h1M159 801.5h1M174 801.5h2M0 802.5h1M15 802.5h1M27 802.5h1M61 802.5h1M116 802.5h1M149 802.5h1M158 802.5h1M176 802.5h2M16 803.5h1M26 803.5h1M61 803.5h1M80 803.5h11M115 803.5h1M150 803.5h1M157 803.5h1M178 803.5h1M17 804.5h9M62 804.5h1M78 804.5h2M91 804.5h4M114 804.5h1M151 804.5h1M156 804.5h1M179 804.5h1M63 805.5h1M76 805.5h2M95 805.5h3M114 805.5h1M151 805.5h1M155 805.5h1M180 805.5h1M63 806.5h1M74 806.5h2M98 806.5h2M112 806.5h2M152 806.5h1M154 806.5h1M181 806.5h1M277 806.5h8M64 807.5h1M71 807.5h3M100 807.5h1M110 807.5h2M153 807.5h1M182 807.5h1M273 807.5h4M285 807.5h5M64 808.5h1M67 808.5h4M101 808.5h2M108 808.5h2M183 808.5h1M272 808.5h1M290 808.5h1M345 808.5h1M65 809.5h2M103 809.5h2M106 809.5h2M184 809.5h1M271 809.5h1M291 809.5h1M344 809.5h1M346 809.5h1M105 810.5h1M185 810.5h1M270 810.5h1M291 810.5h1M343 810.5h1M347 810.5h1M186 811.5h1M269 811.5h1M292 811.5h1M341 811.5h2M348 811.5h1M187 812.5h1M268 812.5h1M293 812.5h1M340 812.5h1M349 812.5h1M188 813.5h1M267 813.5h1M294 813.5h1M339 813.5h1M349 813.5h1M189 814.5h1M266 814.5h1M295 814.5h1M338 814.5h1M350 814.5h1M189 815.5h1M261 815.5h5M295 815.5h1M328 815.5h10M351 815.5h1M190 816.5h1M253 816.5h8M296 816.5h1M326 816.5h2M352 816.5h1M191 817.5h1M209 817.5h1M249 817.5h4M297 817.5h1M324 817.5h2M353 817.5h1M192 818.5h1M208 818.5h1M210 818.5h2M247 818.5h2M298 818.5h1M322 818.5h2M353 818.5h1M193 819.5h1M208 819.5h1M212 819.5h2M245 819.5h2M299 819.5h2M319 819.5h3M354 819.5h1M194 820.5h1M207 820.5h1M214 820.5h2M244 820.5h1M301 820.5h1M315 820.5h4M354 820.5h1M195 821.5h1M206 821.5h1M216 821.5h2M242 821.5h2M302 821.5h1M311 821.5h4M355 821.5h1M1217 821.5h1M196 822.5h1M205 822.5h1M218 822.5h1M241 822.5h1M303 822.5h2M307 822.5h4M355 822.5h1M633 822.5h2M1216 822.5h1M1218 822.5h1M197 823.5h1M205 823.5h1M218 823.5h1M241 823.5h1M305 823.5h2M356 823.5h1M617 823.5h1M631 823.5h2M635 823.5h4M1215 823.5h1M1219 823.5h1M1256 823.5h3M1305 823.5h1M197 824.5h1M204 824.5h1M219 824.5h1M240 824.5h1M356 824.5h1M591 824.5h4M615 824.5h2M618 824.5h2M629 824.5h2M639 824.5h3M1215 824.5h1M1220 824.5h1M1254 824.5h2M1259 824.5h4M1304 824.5h1M1306 824.5h1M198 825.5h1M203 825.5h1M219 825.5h1M240 825.5h1M357 825.5h1M587 825.5h4M595 825.5h2M614 825.5h1M620 825.5h2M628 825.5h1M642 825.5h1M1214 825.5h1M1221 825.5h1M1252 825.5h2M1263 825.5h11M1304 825.5h1M1307 825.5h2M199 826.5h1M202 826.5h1M220 826.5h1M239 826.5h1M357 826.5h1M584 826.5h3M597 826.5h3M613 826.5h1M622 826.5h2M626 826.5h2M642 826.5h1M1213 826.5h1M1221 826.5h1M1250 826.5h2M1274 826.5h1M1303 826.5h1M1309 826.5h1M200 827.5h1M202 827.5h1M221 827.5h1M239 827.5h1M357 827.5h1M582 827.5h2M600 827.5h3M611 827.5h2M624 827.5h2M643 827.5h1M1212 827.5h1M1222 827.5h1M1245 827.5h5M1275 827.5h1M1303 827.5h1M1310 827.5h1M201 828.5h1M221 828.5h1M238 828.5h1M358 828.5h1M580 828.5h2M603 828.5h4M610 828.5h1M643 828.5h1M1211 828.5h1M1223 828.5h1M1241 828.5h4M1276 828.5h1M1302 828.5h1M1311 828.5h2M1317 828.5h6M222 829.5h1M238 829.5h1M358 829.5h1M578 829.5h2M607 829.5h3M644 829.5h1M1211 829.5h1M1224 829.5h1M1240 829.5h1M1277 829.5h1M1301 829.5h1M1313 829.5h4M1323 829.5h2M223 830.5h1M237 830.5h1M359 830.5h1M573 830.5h5M644 830.5h1M1210 830.5h1M1225 830.5h1M1239 830.5h1M1278 830.5h1M1301 830.5h1M1325 830.5h3M223 831.5h1M237 831.5h1M359 831.5h1M569 831.5h4M645 831.5h1M1201 831.5h9M1226 831.5h2M1237 831.5h2M1279 831.5h1M1300 831.5h1M1328 831.5h2M224 832.5h1M236 832.5h1M360 832.5h1M568 832.5h1M645 832.5h1M1199 832.5h2M1228 832.5h1M1236 832.5h1M1280 832.5h1M1299 832.5h1M1330 832.5h1M224 833.5h1M236 833.5h1M360 833.5h1M568 833.5h1M646 833.5h1M1197 833.5h2M1229 833.5h2M1235 833.5h1M1281 833.5h2M1299 833.5h1M1330 833.5h1M225 834.5h1M235 834.5h1M361 834.5h1M567 834.5h1M646 834.5h1M1196 834.5h1M1231 834.5h2M1234 834.5h1M1283 834.5h2M1298 834.5h1M1331 834.5h1M226 835.5h2M235 835.5h1M361 835.5h1M567 835.5h1M647 835.5h1M1137 835.5h1M1194 835.5h2M1233 835.5h1M1285 835.5h3M1298 835.5h1M1331 835.5h1M228 836.5h1M234 836.5h1M361 836.5h1M566 836.5h1M647 836.5h1M1135 836.5h2M1138 836.5h1M1193 836.5h1M1288 836.5h10M1332 836.5h1M229 837.5h2M234 837.5h1M362 837.5h1M528 837.5h2M566 837.5h1M648 837.5h1M665 837.5h9M1097 837.5h2M1133 837.5h2M1139 837.5h2M1191 837.5h2M1332 837.5h1M1373 837.5h5M231 838.5h3M362 838.5h1M525 838.5h3M530 838.5h1M565 838.5h1M648 838.5h1M663 838.5h2M674 838.5h1M1073 838.5h4M1095 838.5h2M1099 838.5h4M1132 838.5h1M1141 838.5h1M1190 838.5h1M1333 838.5h1M1368 838.5h5M233 839.5h1M362 839.5h1M523 839.5h2M531 839.5h2M565 839.5h1M649 839.5h1M662 839.5h1M674 839.5h1M1071 839.5h2M1077 839.5h5M1094 839.5h1M1103 839.5h3M1130 839.5h2M1142 839.5h1M1189 839.5h1M1334 839.5h1M1365 839.5h3M363 840.5h1M521 840.5h2M533 840.5h1M564 840.5h1M649 840.5h2M661 840.5h1M675 840.5h1M849 840.5h1M1070 840.5h1M1082 840.5h2M1093 840.5h1M1106 840.5h2M1129 840.5h1M1143 840.5h2M1187 840.5h2M1334 840.5h1M1363 840.5h2M363 841.5h1M521 841.5h1M534 841.5h1M543 841.5h3M564 841.5h1M651 841.5h2M659 841.5h2M676 841.5h1M848 841.5h2M1069 841.5h1M1084 841.5h2M1091 841.5h2M1108 841.5h2M1127 841.5h2M1145 841.5h1M1168 841.5h3M1186 841.5h1M1335 841.5h1M1361 841.5h2M363 842.5h1M520 842.5h1M535 842.5h2M539 842.5h4M546 842.5h2M563 842.5h1M653 842.5h3M658 842.5h1M677 842.5h1M847 842.5h1M850 842.5h1M1067 842.5h2M1086 842.5h2M1090 842.5h1M1110 842.5h2M1126 842.5h1M1146 842.5h1M1166 842.5h2M1171 842.5h2M1183 842.5h3M1335 842.5h1M1360 842.5h1M364 843.5h1M520 843.5h1M537 843.5h2M548 843.5h1M563 843.5h1M656 843.5h2M677 843.5h1M689 843.5h1M846 843.5h1M850 843.5h1M1066 843.5h1M1088 843.5h2M1112 843.5h3M1125 843.5h1M1147 843.5h2M1164 843.5h2M1173 843.5h3M1179 843.5h4M1336 843.5h1M1359 843.5h1M364 844.5h1M519 844.5h1M549 844.5h2M562 844.5h1M678 844.5h1M687 844.5h2M690 844.5h2M845 844.5h1M851 844.5h1M1065 844.5h1M1115 844.5h2M1123 844.5h2M1149 844.5h1M1162 844.5h2M1176 844.5h3M1336 844.5h1M1357 844.5h2M364 845.5h1M519 845.5h1M551 845.5h2M562 845.5h1M679 845.5h1M685 845.5h2M692 845.5h2M845 845.5h1M851 845.5h1M1063 845.5h2M1117 845.5h3M1122 845.5h1M1150 845.5h1M1159 845.5h3M1337 845.5h10M1356 845.5h1M365 846.5h1M393 846.5h1M519 846.5h1M553 846.5h9M680 846.5h1M684 846.5h1M694 846.5h2M844 846.5h1M852 846.5h1M1061 846.5h2M1120 846.5h2M1151 846.5h2M1155 846.5h4M1347 846.5h2M1355 846.5h1M365 847.5h1M391 847.5h2M394 847.5h1M518 847.5h1M680 847.5h1M682 847.5h2M696 847.5h2M843 847.5h1M852 847.5h1M1060 847.5h1M1153 847.5h2M1349 847.5h3M1354 847.5h1M366 848.5h1M389 848.5h2M394 848.5h1M518 848.5h1M681 848.5h1M698 848.5h2M842 848.5h1M852 848.5h1M1058 848.5h2M1352 848.5h2M366 849.5h1M388 849.5h1M395 849.5h1M518 849.5h1M700 849.5h1M841 849.5h1M853 849.5h1M1056 849.5h2M366 850.5h1M386 850.5h2M395 850.5h1M517 850.5h1M701 850.5h2M841 850.5h1M853 850.5h1M1053 850.5h3M367 851.5h1M385 851.5h1M396 851.5h1M517 851.5h1M703 851.5h2M840 851.5h1M854 851.5h1M1025 851.5h1M1051 851.5h2M367 852.5h1M384 852.5h1M397 852.5h1M516 852.5h1M705 852.5h1M840 852.5h1M854 852.5h1M1024 852.5h1M1026 852.5h1M1049 852.5h2M367 853.5h1M384 853.5h1M397 853.5h1M516 853.5h1M706 853.5h1M839 853.5h1M854 853.5h1M1024 853.5h1M1026 853.5h1M1048 853.5h1M368 854.5h1M383 854.5h1M398 854.5h1M516 854.5h1M706 854.5h1M839 854.5h1M855 854.5h1M1023 854.5h1M1027 854.5h1M1048 854.5h1M368 855.5h1M383 855.5h1M399 855.5h1M515 855.5h1M707 855.5h1M838 855.5h1M855 855.5h1M1022 855.5h1M1028 855.5h1M1047 855.5h1M368 856.5h1M382 856.5h1M399 856.5h1M515 856.5h1M707 856.5h1M809 856.5h1M838 856.5h1M856 856.5h1M1022 856.5h1M1029 856.5h1M1047 856.5h1M369 857.5h1M382 857.5h1M400 857.5h1M515 857.5h1M708 857.5h1M808 857.5h1M810 857.5h2M837 857.5h1M856 857.5h1M1021 857.5h1M1029 857.5h1M1046 857.5h1M369 858.5h1M381 858.5h1M400 858.5h1M416 858.5h2M514 858.5h1M708 858.5h1M807 858.5h1M812 858.5h1M837 858.5h1M857 858.5h1M1020 858.5h1M1030 858.5h1M1046 858.5h1M370 859.5h1M380 859.5h1M401 859.5h2M413 859.5h3M418 859.5h1M514 859.5h1M709 859.5h1M806 859.5h1M813 859.5h2M836 859.5h1M857 859.5h2M1020 859.5h1M1031 859.5h1M1045 859.5h1M371 860.5h1M380 860.5h1M403 860.5h4M411 860.5h2M418 860.5h1M497 860.5h4M513 860.5h1M710 860.5h1M769 860.5h1M805 860.5h1M815 860.5h2M836 860.5h1M859 860.5h4M889 860.5h4M1019 860.5h1M1032 860.5h1M1044 860.5h1M372 861.5h1M379 861.5h1M407 861.5h4M419 861.5h1M496 861.5h1M501 861.5h13M710 861.5h1M768 861.5h1M770 861.5h1M805 861.5h1M817 861.5h9M835 861.5h1M863 861.5h3M889 861.5h1M893 861.5h6M1018 861.5h1M1032 861.5h1M1044 861.5h1M373 862.5h2M379 862.5h1M419 862.5h1M495 862.5h1M711 862.5h1M768 862.5h1M770 862.5h1M804 862.5h1M826 862.5h2M835 862.5h1M865 862.5h1M888 862.5h1M899 862.5h4M1018 862.5h1M1033 862.5h1M1043 862.5h1M375 863.5h1M378 863.5h1M420 863.5h1M494 863.5h1M711 863.5h1M767 863.5h1M771 863.5h1M793 863.5h2M803 863.5h1M828 863.5h1M834 863.5h1M866 863.5h1M888 863.5h1M903 863.5h3M1017 863.5h1M1034 863.5h2M1043 863.5h1M376 864.5h1M378 864.5h1M420 864.5h1M493 864.5h1M712 864.5h1M735 864.5h3M767 864.5h1M771 864.5h1M792 864.5h1M795 864.5h4M802 864.5h1M829 864.5h2M834 864.5h1M866 864.5h1M888 864.5h1M906 864.5h2M1016 864.5h1M1036 864.5h2M1042 864.5h1M377 865.5h1M421 865.5h1M492 865.5h1M712 865.5h1M731 865.5h4M738 865.5h2M766 865.5h1M772 865.5h1M791 865.5h1M799 865.5h3M831 865.5h3M867 865.5h1M887 865.5h1M908 865.5h2M984 865.5h2M1015 865.5h1M1038 865.5h2M1042 865.5h1M421 866.5h1M491 866.5h1M713 866.5h2M728 866.5h3M740 866.5h2M765 866.5h1M772 866.5h1M790 866.5h1M833 866.5h1M867 866.5h1M887 866.5h1M910 866.5h2M945 866.5h1M982 866.5h2M986 866.5h1M1014 866.5h1M1040 866.5h2M422 867.5h1M490 867.5h1M715 867.5h2M725 867.5h3M742 867.5h2M765 867.5h1M773 867.5h1M789 867.5h1M868 867.5h1M886 867.5h1M912 867.5h2M945 867.5h3M969 867.5h2M980 867.5h2M986 867.5h1M1013 867.5h1M422 868.5h1M489 868.5h1M717 868.5h3M723 868.5h2M744 868.5h3M764 868.5h1M773 868.5h1M789 868.5h1M868 868.5h1M886 868.5h1M914 868.5h1M944 868.5h1M948 868.5h1M968 868.5h1M971 868.5h4M978 868.5h2M987 868.5h1M1012 868.5h1M423 869.5h1M489 869.5h1M720 869.5h3M747 869.5h4M763 869.5h1M774 869.5h1M788 869.5h1M869 869.5h1M886 869.5h1M914 869.5h1M944 869.5h1M949 869.5h2M968 869.5h1M975 869.5h3M988 869.5h1M1011 869.5h1M423 870.5h1M488 870.5h1M751 870.5h4M763 870.5h1M774 870.5h1M787 870.5h1M869 870.5h1M885 870.5h1M915 870.5h1M944 870.5h1M951 870.5h2M967 870.5h1M988 870.5h1M1010 870.5h1M424 871.5h1M488 871.5h1M755 871.5h2M762 871.5h1M775 871.5h1M786 871.5h1M870 871.5h1M885 871.5h1M915 871.5h1M944 871.5h1M953 871.5h1M966 871.5h1M989 871.5h1M1009 871.5h1M424 872.5h1M487 872.5h1M757 872.5h3M762 872.5h1M775 872.5h1M784 872.5h2M870 872.5h1M885 872.5h1M916 872.5h1M943 872.5h1M954 872.5h1M965 872.5h1M990 872.5h1M1008 872.5h1M425 873.5h1M487 873.5h1M760 873.5h2M776 873.5h1M782 873.5h2M871 873.5h1M884 873.5h1M916 873.5h1M943 873.5h1M955 873.5h1M965 873.5h1M990 873.5h1M1008 873.5h1M426 874.5h2M486 874.5h1M776 874.5h1M780 874.5h2M871 874.5h1M884 874.5h1M917 874.5h1M943 874.5h1M956 874.5h1M964 874.5h1M991 874.5h1M1007 874.5h1M428 875.5h2M486 875.5h1M777 875.5h3M872 875.5h1M884 875.5h1M918 875.5h1M942 875.5h1M957 875.5h2M963 875.5h1M992 875.5h1M1006 875.5h1M430 876.5h2M485 876.5h1M777 876.5h1M872 876.5h1M883 876.5h1M918 876.5h1M942 876.5h1M959 876.5h1M962 876.5h1M992 876.5h1M1005 876.5h1M432 877.5h2M485 877.5h1M873 877.5h1M883 877.5h1M919 877.5h1M942 877.5h1M960 877.5h1M962 877.5h1M993 877.5h1M1005 877.5h1M434 878.5h1M484 878.5h1M873 878.5h1M882 878.5h1M919 878.5h1M941 878.5h1M961 878.5h1M994 878.5h2M1004 878.5h1M435 879.5h1M484 879.5h1M874 879.5h2M882 879.5h1M920 879.5h1M941 879.5h1M996 879.5h1M1003 879.5h1M436 880.5h1M483 880.5h1M876 880.5h2M882 880.5h1M920 880.5h1M941 880.5h1M997 880.5h2M1002 880.5h1M437 881.5h2M483 881.5h1M878 881.5h2M881 881.5h1M921 881.5h4M941 881.5h1M999 881.5h2M1002 881.5h1M439 882.5h1M457 882.5h1M482 882.5h1M880 882.5h2M925 882.5h5M940 882.5h1M1001 882.5h1M440 883.5h1M455 883.5h2M458 883.5h2M482 883.5h1M930 883.5h1M940 883.5h1M441 884.5h1M454 884.5h1M460 884.5h2M471 884.5h6M481 884.5h1M930 884.5h1M940 884.5h1M442 885.5h2M453 885.5h1M462 885.5h2M467 885.5h4M477 885.5h5M931 885.5h1M939 885.5h1M444 886.5h2M451 886.5h2M464 886.5h3M932 886.5h1M939 886.5h1M446 887.5h2M450 887.5h1M933 887.5h1M939 887.5h1M448 888.5h2M933 888.5h1M938 888.5h1M934 889.5h1M938 889.5h1M935 890.5h1M938 890.5h1M936 891.5h1M938 891.5h1M936 892.5h2M937 893.5h1" stroke="#1e90ff" stroke-width="1" fill="none" shape-rendering="crispEdges"/>
<line x1="1005.3" y1="553.0" x2="1094.7" y2="400.2" stroke="#ff0000" stroke-width="3.3"/>
<polygon points="1098.7,393.3 1096.8,406.1 1093.7,401.9 1088.5,401.2" fill="#ff0000"/>
<line x1="1098.7" y1="393.3" x2="1157.0" y2="455.8" stroke="#ff0000" stroke-width="3.3"/>
<polygon points="1162.5,461.7 1150.8,456.2 1155.7,454.4 1157.8,449.7" fill="#ff0000"/>
<line x1="1162.5" y1="461.7" x2="1283.5" y2="344.3" stroke="#ff0000" stroke-width="3.3"/>
<polygon points="1289.2,338.7 1283.9,350.5 1282.0,345.7 1277.2,343.6" fill="#ff0000"/>
<line x1="1289.2" y1="338.7" x2="1347.7" y2="404.8" stroke="#ff0000" stroke-width="3.3"/>
<polygon points="1353.0,410.8 1341.5,405.0 1346.4,403.3 1348.6,398.6" fill="#ff0000"/>
<line x1="1351.0" y1="410.8" x2="1413.0" y2="371.0" stroke="#ff0000" stroke-width="3.3"/>
<polygon points="1419.7,366.7 1412.2,377.2 1411.3,372.1 1407.0,369.1" fill="#ff0000"/>
<g shape-rendering="crispEdges">
<rect x="1597.5" y="351.5" width="4" height="4" fill="#fff" stroke="#ff0000" stroke-width="1"/>
<rect x="1597.5" y="389.5" width="4" height="4" fill="#fff" stroke="#32cd32" stroke-width="1"/>
<rect x="1597.5" y="405.5" width="4" height="4" fill="#fff" stroke="#0000ff" stroke-width="1"/>
</g>
<g font-family="Liberation Sans, sans-serif" font-size="9.7px" fill="#000">
<rect x="1603" y="47" width="2" height="1" fill="#000" shape-rendering="crispEdges"/>
<text transform="translate(1608.5,51.3) scale(0.93,1)">29298.0</text>
<rect x="1603" y="80" width="2" height="1" fill="#000" shape-rendering="crispEdges"/>
<text transform="translate(1608.5,83.9) scale(0.93,1)">28770.0</text>
<rect x="1603" y="113" width="2" height="1" fill="#000" shape-rendering="crispEdges"/>
<text transform="translate(1608.5,117.2) scale(0.93,1)">28242.0</text>
<rect x="1603" y="146" width="2" height="1" fill="#000" shape-rendering="crispEdges"/>
<text transform="translate(1608.5,150.1) scale(0.93,1)">27698.0</text>
<rect x="1603" y="179" width="2" height="1" fill="#000" shape-rendering="crispEdges"/>
<text transform="translate(1608.5,183.0) scale(0.93,1)">27170.0</text>
<rect x="1603" y="212" width="2" height="1" fill="#000" shape-rendering="crispEdges"/>
<text transform="translate(1608.5,215.9) scale(0.93,1)">26642.0</text>
<rect x="1603" y="245" width="2" height="1" fill="#000" shape-rendering="crispEdges"/>
<text transform="translate(1608.5,249.1) scale(0.93,1)">26114.0</text>
<rect x="1603" y="278" width="2" height="1" fill="#000" shape-rendering="crispEdges"/>
<text transform="translate(1608.5,282.0) scale(0.93,1)">25570.0</text>
<rect x="1603" y="311" width="2" height="1" fill="#000" shape-rendering="crispEdges"/>
<text transform="translate(1608.5,315.0) scale(0.93,1)">25042.0</text>
<rect x="1603" y="344" width="2" height="1" fill="#000" shape-rendering="crispEdges"/>
<text transform="translate(1608.5,347.8) scale(0.93,1)">24514.0</text>
<rect x="1603" y="410" width="2" height="1" fill="#000" shape-rendering="crispEdges"/>
<text transform="translate(1608.5,414.0) scale(0.93,1)">23442.0</text>
<rect x="1603" y="443" width="2" height="1" fill="#000" shape-rendering="crispEdges"/>
<text transform="translate(1608.5,447.2) scale(0.93,1)">22914.0</text>
<rect x="1603" y="476" width="2" height="1" fill="#000" shape-rendering="crispEdges"/>
<text transform="translate(1608.5,480.1) scale(0.93,1)">22386.0</text>
<rect x="1603" y="509" width="2" height="1" fill="#000" shape-rendering="crispEdges"/>
<text transform="translate(1608.5,513.0) scale(0.93,1)">21858.0</text>
<rect x="1603" y="542" width="2" height="1" fill="#000" shape-rendering="crispEdges"/>
<text transform="translate(1608.5,545.9) scale(0.93,1)">21330.0</text>
<rect x="1603" y="575" width="2" height="1" fill="#000" shape-rendering="crispEdges"/>
<text transform="translate(1608.5,579.1) scale(0.93,1)">20802.0</text>
<rect x="1604" y="329" width="41" height="11" fill="#ff0000" shape-rendering="crispEdges"/>
<text transform="translate(1608.5,338.0) scale(0.93,1)" fill="#fff">24660.5</text>
<rect x="1604" y="347" width="41" height="11" fill="#ff0000" shape-rendering="crispEdges"/>
<text transform="translate(1608.5,356.0) scale(0.93,1)" fill="#fff">24371.1</text>
<rect x="1604" y="372" width="41" height="11" fill="#000000" shape-rendering="crispEdges"/>
<text transform="translate(1608.5,381.0) scale(0.93,1)" fill="#fff">23981.0</text>
<rect x="1604" y="385" width="41" height="11" fill="#32cd32" shape-rendering="crispEdges"/>
<text transform="translate(1608.5,394.0) scale(0.93,1)" fill="#fff">23760.2</text>
<rect x="1604" y="401" width="41" height="11" fill="#0000ff" shape-rendering="crispEdges"/>
<text transform="translate(1608.5,410.0) scale(0.93,1)" fill="#fff">23503.0</text>
<rect x="1604" y="418" width="41" height="11" fill="#0000ff" shape-rendering="crispEdges"/>
<text transform="translate(1608.5,427.0) scale(0.93,1)" fill="#fff">23229.7</text>
<text transform="translate(1606.3,590.9) scale(0.93,1)">454.5</text>
<text transform="translate(1606.3,632.2) scale(0.93,1)">0.00</text>
<text transform="translate(1606.3,747.3) scale(0.93,1)">-1198.58</text>
<rect x="1603" y="628" width="2" height="1" fill="#000" shape-rendering="crispEdges"/>
<text transform="translate(1606.0,763.0) scale(0.93,1)">100</text>
<text transform="translate(1606.0,792.2) scale(0.93,1)">80</text>
<text transform="translate(1606.0,843.1) scale(0.93,1)">50</text>
<text transform="translate(1606.0,903.8) scale(0.93,1)">15</text>
<text transform="translate(1606.0,923.1) scale(0.93,1)">0</text>
<text transform="translate(8.2,37.0) scale(0.93,1)" textLength="43.5" lengthAdjust="spacingAndGlyphs">HK50-,H4</text>
<text transform="translate(55.0,37.0) scale(0.93,1)" textLength="151.6" lengthAdjust="spacingAndGlyphs">23927.0 24063.5 23886.0 23981.0</text>
<polygon points="0,36 0,32.5 3,36" fill="#000"/>
<text transform="translate(-2.0,593.4) scale(0.93,1)" textLength="131.2" lengthAdjust="spacingAndGlyphs">MACD(12,26,9) 50.30 133.45</text>
<text transform="translate(-1.5,765.4) scale(0.93,1)" textLength="71.5" lengthAdjust="spacingAndGlyphs">RSI(14) 51.2927</text>
<text transform="translate(-7.5,938.9) scale(0.958,1)">12 Dec 2019</text>
<text transform="translate(56.5,938.9) scale(0.958,1)">18 Dec 05:00</text>
<text transform="translate(120.5,938.9) scale(0.958,1)">27 Dec 01:15</text>
<text transform="translate(184.5,938.9) scale(0.958,1)">3 Jan 05:00</text>
<text transform="translate(248.5,938.9) scale(0.958,1)">9 Jan 05:00</text>
<text transform="translate(312.5,938.9) scale(0.958,1)">15 Jan 05:00</text>
<text transform="translate(376.5,938.9) scale(0.958,1)">21 Jan 05:00</text>
<text transform="translate(440.5,938.9) scale(0.958,1)">30 Jan 01:15</text>
<text transform="translate(504.5,938.9) scale(0.958,1)">5 Feb 01:15</text>
<text transform="translate(568.5,938.9) scale(0.958,1)">11 Feb 01:15</text>
<text transform="translate(632.5,938.9) scale(0.958,1)">17 Feb 01:15</text>
<text transform="translate(696.5,938.9) scale(0.958,1)">21 Feb 01:15</text>
<text transform="translate(760.5,938.9) scale(0.958,1)">27 Feb 01:15</text>
<text transform="translate(824.5,938.9) scale(0.958,1)">4 Mar 01:15</text>
<text transform="translate(888.5,938.9) scale(0.958,1)">10 Mar 01:15</text>
<text transform="translate(952.5,938.9) scale(0.958,1)">16 Mar 01:15</text>
<text transform="translate(1016.5,938.9) scale(0.958,1)">20 Mar 01:15</text>
<text transform="translate(1080.5,938.9) scale(0.958,1)">26 Mar 01:15</text>
<text transform="translate(1144.5,938.9) scale(0.958,1)">1 Apr 01:15</text>
<text transform="translate(1208.5,938.9) scale(0.958,1)">7 Apr 01:15</text>
<text transform="translate(1272.5,938.9) scale(0.958,1)">15 Apr 01:15</text>
<text transform="translate(1336.5,938.9) scale(0.958,1)">21 Apr 01:15</text>
</g>
<polygon points="1387,26 1396,26 1391.5,31" fill="#c0c0c0"/>
<g shape-rendering="crispEdges"><rect x="1450" y="391" width="7" height="1" fill="#ff0000"/><rect x="1457.5" y="389.5" width="2" height="3" fill="#fff" stroke="#ff0000"/><rect x="1460.5" y="379.5" width="73" height="24" fill="#fff" stroke="#ff0000" stroke-width="1"/></g>
<text x="1462" y="400" font-family="Liberation Sans, sans-serif" font-size="23.4px" fill="#ff0000" textLength="70" lengthAdjust="spacingAndGlyphs">23760.2</text>
<text x="1351.80 1384.75 1417.70 1450.65 1483.60" y="444.70" font-family="'Liberation Serif','Noto Serif CJK SC',serif" font-weight="bold" font-size="32px" fill="#061006">多空转折点</text>
<text x="1350.80 1383.75 1416.70 1449.65 1482.60" y="443.70" font-family="'Liberation Serif','Noto Serif CJK SC',serif" font-weight="bold" font-size="32px" fill="#00ff00">多空转折点</text>
<text x="-8.90 3.50 15.90" y="12.30" font-family="'Liberation Sans','Noto Sans CJK SC',sans-serif" font-size="12.4px" fill="#111">新订单</text>
<text x="143.80 155.80 167.80 179.80" y="12.30" font-family="'Liberation Sans','Noto Sans CJK SC',sans-serif" font-size="12px" fill="#111">自动交易</text>
<defs><linearGradient id="gold" x1="0" y1="0" x2="1" y2="1"><stop offset="0" stop-color="#fff0a0"/><stop offset=".5" stop-color="#f0c030"/><stop offset="1" stop-color="#b8780c"/></linearGradient><linearGradient id="blu" x1="0" y1="0" x2="0" y2="1"><stop offset="0" stop-color="#7ec0f8"/><stop offset="1" stop-color="#2c6fd0"/></linearGradient><radialGradient id="lens" cx=".4" cy=".35" r=".7"><stop offset="0" stop-color="#f0faff"/><stop offset="1" stop-color="#b4dcf8"/></radialGradient><pattern id="chk" width="2" height="2" patternUnits="userSpaceOnUse"><rect width="2" height="2" fill="#f6f6f6"/><rect width="1" height="1" fill="#ffffff"/><rect x="1" y="1" width="1" height="1" fill="#ffffff"/></pattern></defs>
<defs><radialGradient id="gface" cx=".42" cy=".45" r=".6"><stop offset="0" stop-color="#fff6b8"/><stop offset=".55" stop-color="#f6cc3c"/><stop offset="1" stop-color="#d89c18"/></radialGradient><linearGradient id="cl" x1="0" y1="0" x2="0" y2="1"><stop offset="0" stop-color="#ffffff"/><stop offset="1" stop-color="#c4d0ea"/></linearGradient><linearGradient id="srv" x1="0" y1="0" x2="1" y2="1"><stop offset="0" stop-color="#58b8ff"/><stop offset="1" stop-color="#1c84f0"/></linearGradient><linearGradient id="gsw" x1="0" y1="0" x2="0" y2="1"><stop offset="0" stop-color="#dcefd8"/><stop offset="1" stop-color="#78bc78"/></linearGradient><linearGradient id="face" x1="0" y1="0" x2="0" y2="1"><stop offset="0" stop-color="#fff2a8"/><stop offset="1" stop-color="#eeb820"/></linearGradient></defs>
<polygon points="40,10.9 48.4,15.3 55.7,10.4 55.8,11.6 48.5,17 40,12.2" fill="#b4741a"/>
<polygon points="45.4,2.3 55.7,10.4 48.4,15.3 40.1,10.9" fill="url(#gface)" stroke="#c08a18" stroke-width=".6"/>
<path d="M45.6 2.6 C43.6 4.4 41.6 7.6 40.6 10.6" fill="none" stroke="#fdf0a8" stroke-width="1.3"/>
<path d="M44.9 2.2 C42.9 4 40.6 7.6 39.8 10.9" fill="none" stroke="#b87c14" stroke-width=".7"/>
<polygon points="70,2 73.4,3.3 73.4,10.8 70.2,10" fill="#1670d8"/>
<polygon points="70,2 78,1.2 81.4,2.7 73.4,3.3" fill="#8cd0ff"/>
<rect x="73.4" y="2.9" width="8" height="8.6" fill="url(#srv)"/>
<rect x="75.3" y="5.6" width="4.8" height="1.4" fill="#e6f5ff"/>
<path d="M70.8 16.4 a2.9 2.9 0 0 1 -0.2 -5.6 a2.6 2.6 0 0 1 3.6 -1.4 a3.3 3.3 0 0 1 5.8 0.4 a2.4 2.4 0 0 1 3.2 2.3 a2.2 2.2 0 0 1 -0.4 4.3 z" fill="url(#cl)" stroke="#7f92c0" stroke-width=".9"/>
<path d="M104 0.8 A8 8 0 0 1 104 16.7 Z" fill="url(#gsw)" opacity=".85"/>
<path d="M104 0.8 A8 8 0 0 0 104 16.7" fill="none" stroke="#a9c0ee" stroke-width="1.2"/>
<path d="M104 3.3 A5.5 5.5 0 0 0 104 14.2" fill="none" stroke="#7c9ce8" stroke-width="1.2"/>
<path d="M104 5.6 A3.2 3.2 0 0 0 104 11.9" fill="none" stroke="#5a80e0" stroke-width="1.1"/>
<path d="M104 0.8 A8 8 0 0 1 112 8.7" fill="none" stroke="#b8cce8" stroke-width="1"/>
<path d="M104 3.3 A5.5 5.5 0 0 1 109.5 8.7" fill="none" stroke="#a8c4d8" stroke-width="1"/>
<path d="M112 8.7 A8 8 0 0 1 104 16.7" fill="none" stroke="#5aa85a" stroke-width="1.1"/>
<line x1="104.1" y1="8.7" x2="104.1" y2="16.9" stroke="#24a024" stroke-width="1.4"/>
<circle cx="104" cy="8.6" r="1.9" fill="#2656d6"/>
<polygon points="123.4,7 138.8,7 135.5,12 132,16.4 128,12.5" fill="url(#face)" stroke="#d0a020" stroke-width=".5"/>
<ellipse cx="131" cy="5.5" rx="8" ry="2.7" fill="#5aa2e0" stroke="#3c80c4" stroke-width=".6"/>
<ellipse cx="130.8" cy="3.4" rx="3.8" ry="2.5" fill="#6cb0e8"/>
<path d="M124 5.6 Q131 8.6 138 5.6" fill="none" stroke="#8cc4f0" stroke-width=".7"/>
<circle cx="135.7" cy="12.7" r="4" fill="#e02418" stroke="#a81408" stroke-width=".7"/>
<rect x="134.1" y="11.1" width="3.3" height="3.3" fill="#fff"/>
<rect x="199" y="1" width="1" height="18" fill="#a0a0a0" shape-rendering="crispEdges"/>
<rect x="203" y="2" width="3" height="1" fill="#a8a8a8" shape-rendering="crispEdges"/>
<rect x="203" y="4" width="3" height="1" fill="#a8a8a8" shape-rendering="crispEdges"/>
<rect x="203" y="6" width="3" height="1" fill="#a8a8a8" shape-rendering="crispEdges"/>
<rect x="203" y="8" width="3" height="1" fill="#a8a8a8" shape-rendering="crispEdges"/>
<rect x="203" y="10" width="3" height="1" fill="#a8a8a8" shape-rendering="crispEdges"/>
<rect x="203" y="12" width="3" height="1" fill="#a8a8a8" shape-rendering="crispEdges"/>
<rect x="203" y="14" width="3" height="1" fill="#a8a8a8" shape-rendering="crispEdges"/>
<rect x="203" y="16" width="3" height="1" fill="#a8a8a8" shape-rendering="crispEdges"/>
<rect x="203" y="18" width="3" height="1" fill="#a8a8a8" shape-rendering="crispEdges"/>
<rect x="237" y="1" width="1" height="18" fill="#a0a0a0" shape-rendering="crispEdges"/>
<rect x="294" y="1" width="1" height="18" fill="#a0a0a0" shape-rendering="crispEdges"/>
<rect x="384" y="1" width="1" height="18" fill="#a0a0a0" shape-rendering="crispEdges"/>
<rect x="389" y="1" width="1" height="18" fill="#a0a0a0" shape-rendering="crispEdges"/>
<rect x="417" y="1" width="1" height="18" fill="#a0a0a0" shape-rendering="crispEdges"/>
<rect x="446" y="1" width="1" height="18" fill="#a0a0a0" shape-rendering="crispEdges"/>
<rect x="567" y="1" width="1" height="18" fill="#a0a0a0" shape-rendering="crispEdges"/>
<rect x="571" y="2" width="3" height="1" fill="#a8a8a8" shape-rendering="crispEdges"/>
<rect x="571" y="4" width="3" height="1" fill="#a8a8a8" shape-rendering="crispEdges"/>
<rect x="571" y="6" width="3" height="1" fill="#a8a8a8" shape-rendering="crispEdges"/>
<rect x="571" y="8" width="3" height="1" fill="#a8a8a8" shape-rendering="crispEdges"/>
<rect x="571" y="10" width="3" height="1" fill="#a8a8a8" shape-rendering="crispEdges"/>
<rect x="571" y="12" width="3" height="1" fill="#a8a8a8" shape-rendering="crispEdges"/>
<rect x="571" y="14" width="3" height="1" fill="#a8a8a8" shape-rendering="crispEdges"/>
<rect x="571" y="16" width="3" height="1" fill="#a8a8a8" shape-rendering="crispEdges"/>
<rect x="571" y="18" width="3" height="1" fill="#a8a8a8" shape-rendering="crispEdges"/>
<rect x="577" y="1" width="1" height="18" fill="#a0a0a0" shape-rendering="crispEdges"/>
<rect x="634" y="1" width="1" height="18" fill="#a0a0a0" shape-rendering="crispEdges"/>
<rect x="873" y="1" width="1" height="18" fill="#b4b4b4" shape-rendering="crispEdges"/>
<rect x="877" y="2" width="3" height="1" fill="#a8a8a8" shape-rendering="crispEdges"/>
<rect x="877" y="4" width="3" height="1" fill="#a8a8a8" shape-rendering="crispEdges"/>
<rect x="877" y="6" width="3" height="1" fill="#a8a8a8" shape-rendering="crispEdges"/>
<rect x="877" y="8" width="3" height="1" fill="#a8a8a8" shape-rendering="crispEdges"/>
<rect x="877" y="10" width="3" height="1" fill="#a8a8a8" shape-rendering="crispEdges"/>
<rect x="877" y="12" width="3" height="1" fill="#a8a8a8" shape-rendering="crispEdges"/>
<rect x="877" y="14" width="3" height="1" fill="#a8a8a8" shape-rendering="crispEdges"/>
<rect x="877" y="16" width="3" height="1" fill="#a8a8a8" shape-rendering="crispEdges"/>
<rect x="877" y="18" width="3" height="1" fill="#a8a8a8" shape-rendering="crispEdges"/>
<rect x="1134" y="1" width="1" height="18" fill="#a0a0a0" shape-rendering="crispEdges"/>
<rect x="1023" y="0" width="1" height="20" fill="#a0a0a0" shape-rendering="crispEdges"/>
<rect x="238.5" y="0" width="23.5" height="20" fill="url(#chk)"/>
<rect x="390" y="0" width="24" height="20" fill="url(#chk)"/>
<rect x="418.5" y="0" width="23.5" height="20" fill="url(#chk)"/>
<rect x="578.5" y="0" width="23.5" height="20" fill="url(#chk)"/>
<rect x="1024" y="0" width="25" height="20" fill="url(#chk)"/>
<g stroke="#505050" stroke-width="1.1" fill="none"><line x1="217.5" y1="3.5" x2="217.5" y2="16.5"/><line x1="215" y1="14.3" x2="228.5" y2="14.3"/><polyline points="216,5.5 217.5,3.2 219,5.5"/><polyline points="226.5,12.8 228.8,14.3 226.5,15.8"/></g>
<g stroke="#2a9a2a" stroke-width="1.3" fill="none"><line x1="223.7" y1="4.5" x2="223.7" y2="12.5"/><line x1="223.7" y1="5.3" x2="226" y2="5.3"/><line x1="221.3" y1="11.7" x2="223.7" y2="11.7"/></g>
<g stroke="#505050" stroke-width="1.1" fill="none"><line x1="245.5" y1="3.5" x2="245.5" y2="16.5"/><line x1="243" y1="14.3" x2="256.5" y2="14.3"/><polyline points="244,5.5 245.5,3.2 247,5.5"/><polyline points="254.5,12.8 256.8,14.3 254.5,15.8"/></g>
<line x1="251.3" y1="1" x2="251.3" y2="12.8" stroke="#157a15" stroke-width="1.1"/><rect x="249.3" y="3.2" width="4" height="7.8" fill="#22c222" stroke="#157a15" stroke-width=".8"/>
<g stroke="#505050" stroke-width="1.1" fill="none"><line x1="273.5" y1="3.5" x2="273.5" y2="16.5"/><line x1="271" y1="14.3" x2="284.5" y2="14.3"/><polyline points="272,5.5 273.5,3.2 275,5.5"/><polyline points="282.5,12.8 284.8,14.3 282.5,15.8"/></g>
<path d="M272.5 11.8 C275 10.5 276 6.2 278.3 6 C280.5 6 281.5 9 284 10.3" fill="none" stroke="#2a9a2a" stroke-width="1.2"/>
<line x1="313.3" y1="11" x2="318.1" y2="15.6" stroke="#a07c10" stroke-width="3.6"/>
<line x1="313.3" y1="11" x2="317.7" y2="15.2" stroke="#f0d848" stroke-width="2"/>
<circle cx="309.3" cy="7" r="5.6" fill="url(#lens)" stroke="#2c7ccc" stroke-width="1.3"/>
<line x1="306.1" y1="7" x2="312.5" y2="7" stroke="#3a88c4" stroke-width="2"/>
<line x1="309.3" y1="3.8" x2="309.3" y2="10.2" stroke="#3a88c4" stroke-width="2"/>
<line x1="341.3" y1="11" x2="346.1" y2="15.6" stroke="#a07c10" stroke-width="3.6"/>
<line x1="341.3" y1="11" x2="345.7" y2="15.2" stroke="#f0d848" stroke-width="2"/>
<circle cx="337.3" cy="7" r="5.6" fill="url(#lens)" stroke="#2c7ccc" stroke-width="1.3"/>
<line x1="334.1" y1="7" x2="340.5" y2="7" stroke="#3a88c4" stroke-width="2"/>
<rect x="359" y="1.2" width="7.7" height="7.6" fill="#3f9c28"/><rect x="360" y="2.3" width=".9" height=".9" fill="#e8f0ff"/><path d="M360.2 8.0 v-3 q0 -.9 .9 -.9 h3.6 q.9 0 .9 .9 v3 z" fill="#fff"/><rect x="361.2" y="5.6000000000000005" width="3.4" height=".8" fill="#9ad488"/>
<rect x="367.4" y="1.2" width="7.7" height="7.6" fill="#2552c8"/><rect x="368.4" y="2.3" width=".9" height=".9" fill="#e8f0ff"/><path d="M368.59999999999997 8.0 v-3 q0 -.9 .9 -.9 h3.6 q.9 0 .9 .9 v3 z" fill="#fff"/><rect x="369.59999999999997" y="5.6000000000000005" width="3.4" height=".8" fill="#90a8e8"/>
<rect x="359" y="9.2" width="7.7" height="7.6" fill="#2552c8"/><rect x="360" y="10.299999999999999" width=".9" height=".9" fill="#e8f0ff"/><path d="M360.2 16.0 v-3 q0 -.9 .9 -.9 h3.6 q.9 0 .9 .9 v3 z" fill="#fff"/><rect x="361.2" y="13.6" width="3.4" height=".8" fill="#90a8e8"/>
<rect x="367.4" y="9.2" width="7.7" height="7.6" fill="#3f9c28"/><rect x="368.4" y="10.299999999999999" width=".9" height=".9" fill="#e8f0ff"/><path d="M368.59999999999997 16.0 v-3 q0 -.9 .9 -.9 h3.6 q.9 0 .9 .9 v3 z" fill="#fff"/><rect x="369.59999999999997" y="13.6" width="3.4" height=".8" fill="#9ad488"/>
<g stroke="#505050" stroke-width="1.1" fill="none"><line x1="397.5" y1="3.5" x2="397.5" y2="16.5"/><line x1="395" y1="14.3" x2="408.5" y2="14.3"/><polyline points="396,5.5 397.5,3.2 399,5.5"/><polyline points="406.5,12.8 408.8,14.3 406.5,15.8"/></g>
<polygon points="402,4.8 402,12 406.3,8.4" fill="#3cc43c" stroke="#1f9a1f" stroke-width=".8"/>
<g stroke="#505050" stroke-width="1.1" fill="none"><line x1="425.5" y1="3.5" x2="425.5" y2="16.5"/><line x1="423" y1="14.3" x2="436.5" y2="14.3"/><polyline points="424,5.5 425.5,3.2 427,5.5"/><polyline points="434.5,12.8 436.8,14.3 434.5,15.8"/></g>
<line x1="431.3" y1="3" x2="431.3" y2="12.5" stroke="#2a6ab8" stroke-width="1.2"/>
<path d="M437 8.3 L432.6 8.3 M434.8 6.3 L432.6 8.3 L434.8 10.3" stroke="#d03010" stroke-width="1.2" fill="none"/>
<path d="M456.8 1.6 h7 l3 3 v9.6 h-10 z" fill="#f8f8f8" stroke="#8a8a8a" stroke-width=".8"/><path d="M463.8 1.6 v3 h3" fill="none" stroke="#8a8a8a" stroke-width=".8"/>
<text x="458.2" y="11.5" font-family="Liberation Serif, serif" font-style="italic" font-size="10.5px" fill="#333">f</text>
<path d="M464.3 7.5 h3.2 v3.2 h3.4 v3.2 h-3.4 v3.4 h-3.2 v-3.4 h-3.4 v-3.2 h3.4 z" fill="#1fd01f" stroke="#0f8a0f" stroke-width=".8"/>
<polygon points="478,7.8 483.2,7.8 480.6,10.6" fill="#000"/>
<defs><linearGradient id="clk" x1="0" y1="0" x2="1" y2="1"><stop offset="0" stop-color="#62b4f4"/><stop offset=".5" stop-color="#2470dc"/><stop offset="1" stop-color="#0c48b4"/></linearGradient><linearGradient id="tpl" x1="0" y1="0" x2="0" y2="1"><stop offset="0" stop-color="#a8d0f8"/><stop offset="1" stop-color="#3c7cd8"/></linearGradient></defs>
<circle cx="502.2" cy="9" r="7.6" fill="url(#clk)"/><circle cx="502.2" cy="9" r="4.9" fill="#f6f9ff"/>
<g stroke="#9aa4b8" stroke-width=".7"><line x1="502.2" y1="4" x2="502.2" y2="5"/><line x1="502.2" y1="13" x2="502.2" y2="14"/><line x1="497.2" y1="9" x2="498.2" y2="9"/><line x1="506.2" y1="9" x2="507.2" y2="9"/></g>
<path d="M502 5 V9.3 L505.2 10" fill="none" stroke="#303030" stroke-width="1.2"/><path d="M500.6 11.6 h3" stroke="#6aa0e8" stroke-width=".8"/>
<polygon points="517,7.8 522.2,7.8 519.6,10.6" fill="#000"/>
<rect x="533.5" y="2.5" width="15.5" height="13.2" fill="#ffffff" stroke="#3a6cc4" stroke-width="1"/><rect x="533.5" y="2.5" width="15.5" height="2.4" fill="url(#tpl)"/>
<line x1="534" y1="9.9" x2="549" y2="9.9" stroke="#5a88d4" stroke-width=".9"/>
<polyline points="535.5,8.3 537.5,8.3 539,7 540.8,6.4 542.3,7.3 544,7.3 545.5,6.3 547.3,6.3" fill="none" stroke="#a82c10" stroke-width="1.3"/>
<polyline points="536,13.2 537.8,12.3 539.3,13 540.8,13 542.3,11.6 543.8,11.2 545.3,12.6 546.8,13.3" fill="none" stroke="#1f8a2a" stroke-width="1.2"/>
<polygon points="556,7.8 561.2,7.8 558.6,10.6" fill="#000"/>
<polygon points="585,2.6 585,14 587.8,11.6 590,16.2 592,15.3 589.9,10.8 593.4,10.6" fill="#484848"/>
<g stroke="#484848" stroke-width="1"><line x1="610" y1="9.3" x2="616" y2="9.3"/><line x1="619" y1="9.3" x2="625" y2="9.3"/><line x1="617.5" y1="2" x2="617.5" y2="7.8"/><line x1="617.5" y1="10.8" x2="617.5" y2="17"/></g>
<g stroke="#484848" stroke-width="1.2"><line x1="651.3" y1="3.5" x2="651.3" y2="16"/><line x1="673.8" y1="9.3" x2="686" y2="9.3"/><line x1="702" y1="16" x2="713.8" y2="4"/></g>
<g stroke="#404040" stroke-width="1.15"><line x1="727.6" y1="10.8" x2="741" y2="2.8"/><line x1="729.6" y1="14.7" x2="742.2" y2="7.4"/><line x1="728.6" y1="12.8" x2="741.6" y2="5.1" stroke-width=".9"/><line x1="731.8" y1="7.2" x2="731.2" y2="14.6"/><line x1="734.8" y1="5.4" x2="734.2" y2="12.9"/><line x1="737.8" y1="3.6" x2="737.2" y2="11.1"/><line x1="740.7" y1="1.6" x2="740.2" y2="9.3"/></g>
<g fill="#404040" shape-rendering="crispEdges"><rect x="739" y="13" width="1" height="5"/><rect x="739" y="13" width="4" height="1"/><rect x="739" y="15" width="3" height="1"/><rect x="739" y="17" width="4" height="1"/></g>
<g fill="#404040" shape-rendering="crispEdges"><rect x="757" y="2" width="1" height="1"/><rect x="759" y="2" width="1" height="1"/><rect x="761" y="2" width="1" height="1"/><rect x="763" y="2" width="1" height="1"/><rect x="765" y="2" width="1" height="1"/><rect x="767" y="2" width="1" height="1"/><rect x="769" y="2" width="1" height="1"/><rect x="757" y="5" width="1" height="1"/><rect x="759" y="5" width="1" height="1"/><rect x="761" y="5" width="1" height="1"/><rect x="763" y="5" width="1" height="1"/><rect x="765" y="5" width="1" height="1"/><rect x="767" y="5" width="1" height="1"/><rect x="769" y="5" width="1" height="1"/><rect x="757" y="9" width="1" height="1"/><rect x="759" y="9" width="1" height="1"/><rect x="761" y="9" width="1" height="1"/><rect x="763" y="9" width="1" height="1"/><rect x="765" y="9" width="1" height="1"/><rect x="767" y="9" width="1" height="1"/><rect x="769" y="9" width="1" height="1"/><rect x="757" y="13" width="1" height="1"/><rect x="759" y="13" width="1" height="1"/><rect x="761" y="13" width="1" height="1"/><rect x="763" y="13" width="1" height="1"/><rect x="765" y="13" width="1" height="1"/><rect x="767" y="13" width="4" height="1"/><rect x="767" y="13" width="1" height="5"/><rect x="767" y="15" width="3" height="1"/></g>
<text x="787.6" y="13.4" font-family="Liberation Sans, sans-serif" font-size="11.7px" fill="#4a4a4a" stroke="#4a4a4a" stroke-width=".25">A</text>
<rect x="813.5" y="3.5" width="12" height="12" fill="none" stroke="#484848" stroke-width="1" stroke-dasharray="1,1" shape-rendering="crispEdges"/>
<text x="815.7" y="14" font-family="Liberation Sans, sans-serif" font-size="12.5px" fill="#484848" stroke="#484848" stroke-width=".25">T</text>
<polygon points="842,5.6 845.2,2.8 848.4,5.6 845.2,7.4" fill="#333"/><polygon points="848.6,12.2 851.8,10.4 855,12.2 851.8,15.6" fill="#333"/><polyline points="843.5,10 846.3,12.6 851.5,6.8" fill="none" stroke="#333" stroke-width="1.3"/>
<polygon points="862,7.8 867.2,7.8 864.6,10.6" fill="#000"/>
<g font-family="Liberation Sans, sans-serif" font-size="9px" fill="#444">
<text x="888.8" y="12.4">M1</text>
<text x="916.8" y="12.4">M5</text>
<text x="942.5" y="12.4">M15</text>
<text x="970.8" y="12.4">M30</text>
<text x="1002" y="12.4">H1</text>
<text x="1028.8" y="12.4">H4</text>
<text x="1057.5" y="12.4">D1</text>
<text x="1085" y="12.4">W1</text>
<text x="1111.8" y="12.4">MN</text>
</g>
<line x1="1602.6" y1="8.8" x2="1598" y2="13.6" stroke="#2c5fd0" stroke-width="2.6" stroke-linecap="round"/><circle cx="1605.2" cy="6.2" r="3.6" fill="#f4f8ff" stroke="#2c5fd0" stroke-width="1.6"/>
<ellipse cx="1636.5" cy="6.2" rx="7" ry="5" fill="#ececec" stroke="#a0a0a0" stroke-width=".9"/><polygon points="1638,10.5 1641.5,13.5 1640.5,10" fill="#ececec" stroke="#a0a0a0" stroke-width=".7"/>
<ellipse cx="1629" cy="10" rx="5.4" ry="3.9" fill="#f8f8f8" stroke="#a0a0a0" stroke-width=".9"/><polygon points="1626.5,13.2 1626,15.8 1629.5,13.6" fill="#f8f8f8" stroke="#a0a0a0" stroke-width=".7"/>
</svg>

<div id="panel">
 <div class="btn" style="left:0;width:48px"><b style="transform:scaleX(.85);margin-left:-6px">SELL</b><i></i></div>
 <div id="qty">
   <div class="sp" style="left:0"></div>
   <div class="sp" style="left:89px"></div>
   <div style="left:21px;top:0;width:64px;height:20px;line-height:20px;text-align:right;color:#000;font-size:12px">1.00</div>
 </div>
 <div class="btn" style="left:163px;width:52px"><b style="transform:scaleX(.93)">BUY</b><i style="left:4px;right:4px"></i></div>
 <div class="blk" style="left:0;width:105px"><span class="sm" style="left:12px">23979</span><span class="bg" style="left:50px">.5</span></div>
 <div class="blk" style="left:107px;width:108px"><span class="sm" style="left:15px">23995</span><span class="bg" style="left:54.5px">.5</span></div>
</div>

<svg width="1649" height="948" viewBox="0 0 1649 948" style="pointer-events:none"><polygon points="57.8,54.2 63.2,54.2 60.5,57.2" fill="#4a5ab8"/><polygon points="146.8,57.2 152.2,57.2 149.5,54.2" fill="#4a5ab8"/></svg>
</body></html>
